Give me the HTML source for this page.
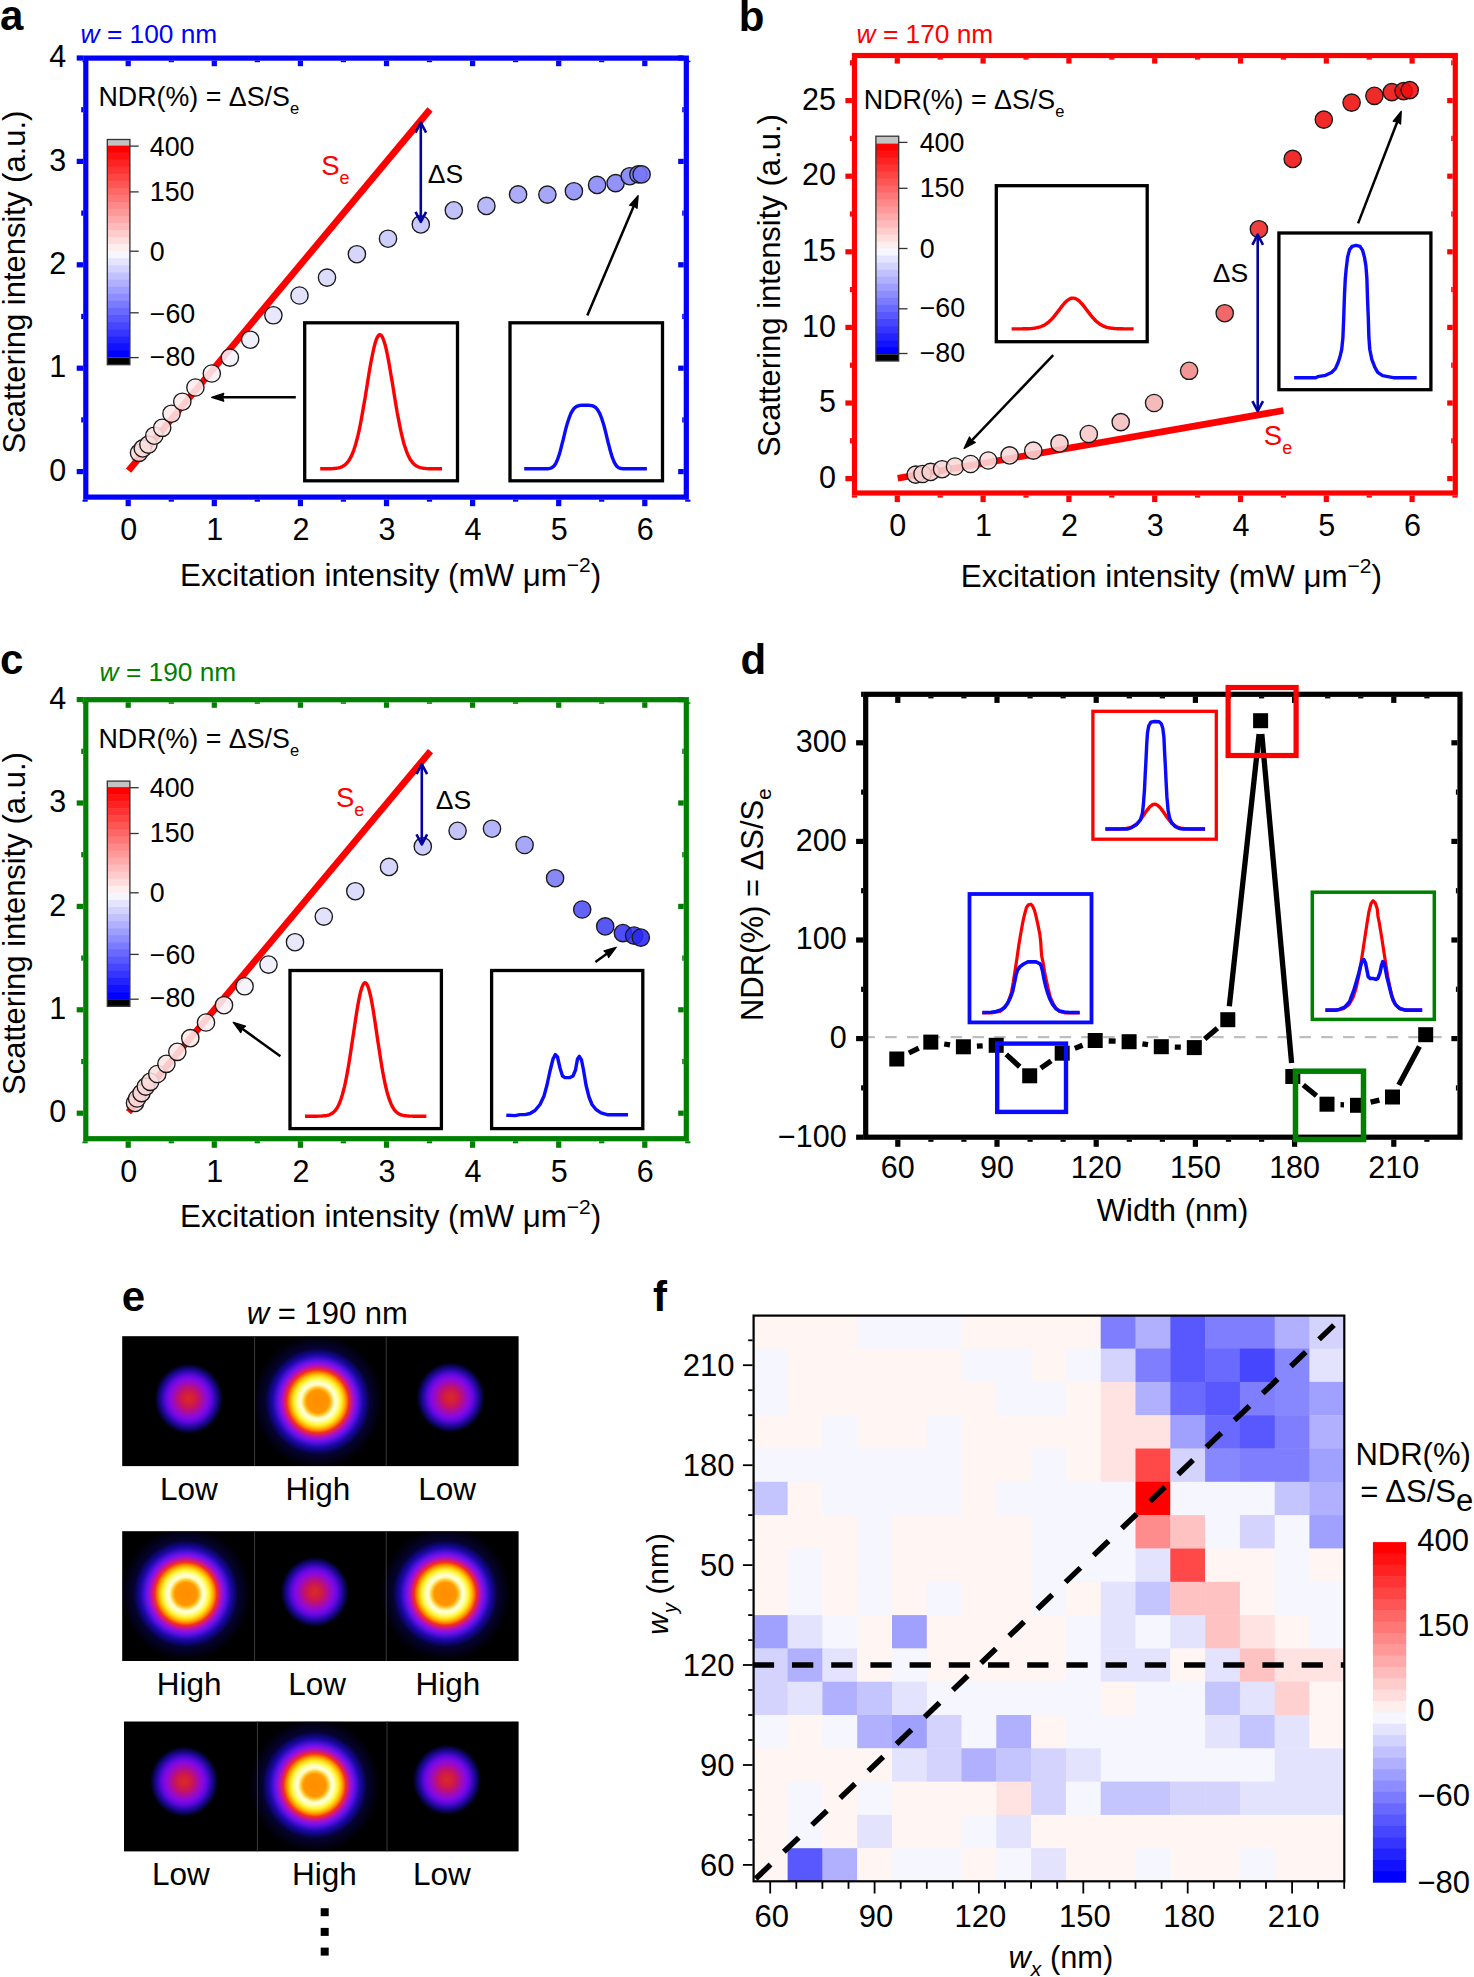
<!DOCTYPE html>
<html><head><meta charset="utf-8"><style>
html,body{margin:0;padding:0;background:#fff;width:1474px;height:1977px;overflow:hidden;}
svg{display:block;}
text{font-family:"Liberation Sans",sans-serif;}
</style></head><body>
<svg width="1474" height="1977" viewBox="0 0 1474 1977">
<rect x="0" y="0" width="1474" height="1977" fill="#fff"/>
<defs>
<radialGradient id="gLow" cx="0.5" cy="0.5" r="0.5">
<stop offset="0" stop-color="#d82a2a"/><stop offset="0.18" stop-color="#d01c40"/>
<stop offset="0.3" stop-color="#c01070"/><stop offset="0.42" stop-color="#a00cb4"/>
<stop offset="0.55" stop-color="#8408e4"/><stop offset="0.66" stop-color="#5a08dc"/>
<stop offset="0.76" stop-color="#2c08aa"/><stop offset="0.86" stop-color="#0e0668"/>
<stop offset="0.94" stop-color="#030222"/><stop offset="1" stop-color="#000" stop-opacity="0"/>
</radialGradient>
<radialGradient id="gHigh" cx="0.5" cy="0.5" r="0.5">
<stop offset="0.000" stop-color="#ff8c00"/><stop offset="0.204" stop-color="#ff9600"/><stop offset="0.252" stop-color="#ffc830"/><stop offset="0.298" stop-color="#fff8b0"/><stop offset="0.333" stop-color="#ffffe0"/><stop offset="0.380" stop-color="#ffff90"/><stop offset="0.437" stop-color="#fff030"/><stop offset="0.494" stop-color="#ffb800"/><stop offset="0.539" stop-color="#ff7000"/><stop offset="0.574" stop-color="#f03020"/><stop offset="0.620" stop-color="#d01880"/><stop offset="0.667" stop-color="#a010d0"/><stop offset="0.722" stop-color="#7010ec"/><stop offset="0.778" stop-color="#4010d0"/><stop offset="0.833" stop-color="#2008a8"/><stop offset="0.889" stop-color="#100680"/><stop offset="0.944" stop-color="#08044c"/><stop offset="1" stop-color="#01010c" stop-opacity="0"/>
</radialGradient>
<radialGradient id="gHalo" cx="0.5" cy="0.5" r="0.5">
<stop offset="0.6" stop-color="#140a90" stop-opacity="0.9"/><stop offset="0.75" stop-color="#0a0660" stop-opacity="0.6"/>
<stop offset="0.88" stop-color="#06033a" stop-opacity="0.35"/><stop offset="1" stop-color="#000" stop-opacity="0"/>
</radialGradient>
</defs>
<text x="0.0" y="30.4" font-size="42" font-weight="bold">a</text>
<text x="80.6" y="43.3" font-size="26.3" fill="#0000ff"><tspan font-style="italic">w</tspan> = 100 nm</text>
<rect x="304.7" y="322.8" width="152.8" height="158.0" fill="none" stroke="#000" stroke-width="3.3" stroke-linejoin="miter"/>
<rect x="510.0" y="322.8" width="152.5" height="158.0" fill="none" stroke="#000" stroke-width="3.3" stroke-linejoin="miter"/>
<polyline points="320.2,468.8 321.2,468.8 322.2,468.8 323.2,468.8 324.3,468.8 325.3,468.8 326.3,468.8 327.3,468.8 328.3,468.7 329.3,468.7 330.3,468.7 331.4,468.7 332.4,468.6 333.4,468.5 334.4,468.5 335.4,468.4 336.4,468.2 337.5,468.1 338.5,467.9 339.5,467.6 340.5,467.3 341.5,466.9 342.5,466.4 343.5,465.8 344.6,465.1 345.6,464.3 346.6,463.3 347.6,462.2 348.6,460.8 349.6,459.3 350.6,457.4 351.7,455.4 352.7,453.0 353.7,450.3 354.7,447.3 355.7,444.0 356.7,440.3 357.8,436.2 358.8,431.8 359.8,427.1 360.8,422.0 361.8,416.6 362.8,410.9 363.8,405.1 364.9,399.0 365.9,392.8 366.9,386.5 367.9,380.3 368.9,374.1 369.9,368.1 370.9,362.4 372.0,357.0 373.0,352.0 374.0,347.5 375.0,343.6 376.0,340.4 377.0,337.8 378.1,336.0 379.1,335.0 380.1,334.7 381.1,335.3 382.1,336.6 383.1,338.7 384.1,341.5 385.2,345.0 386.2,349.1 387.2,353.8 388.2,358.9 389.2,364.4 390.2,370.3 391.2,376.3 392.3,382.5 393.3,388.8 394.3,395.0 395.3,401.2 396.3,407.2 397.3,413.0 398.4,418.6 399.4,423.9 400.4,428.8 401.4,433.5 402.4,437.7 403.4,441.7 404.4,445.2 405.5,448.4 406.5,451.3 407.5,453.9 408.5,456.1 409.5,458.1 410.5,459.9 411.6,461.3 412.6,462.6 413.6,463.7 414.6,464.6 415.6,465.4 416.6,466.1 417.6,466.6 418.7,467.0 419.7,467.4 420.7,467.7 421.7,467.9 422.7,468.1 423.7,468.3 424.7,468.4 425.8,468.5 426.8,468.6 427.8,468.6 428.8,468.7 429.8,468.7 430.8,468.7 431.9,468.7 432.9,468.8 433.9,468.8 434.9,468.8 435.9,468.8 436.9,468.8 437.9,468.8 439.0,468.8 440.0,468.8 441.0,468.8 442.0,468.8" fill="none" stroke="#ff0000" stroke-width="3.4" stroke-linejoin="round"/>
<polyline points="524.2,468.8 525.2,468.8 526.2,468.8 527.3,468.8 528.3,468.8 529.3,468.8 530.3,468.8 531.4,468.8 532.4,468.8 533.4,468.8 534.4,468.8 535.4,468.8 536.5,468.8 537.5,468.8 538.5,468.8 539.5,468.8 540.6,468.8 541.6,468.8 542.6,468.8 543.6,468.8 544.7,468.8 545.7,468.8 546.7,468.8 547.7,468.7 548.7,468.6 549.8,468.4 550.8,468.1 551.8,467.7 552.8,467.0 553.9,466.1 554.9,464.8 555.9,463.1 556.9,461.0 557.9,458.4 559.0,455.3 560.0,451.9 561.0,448.1 562.0,444.1 563.1,440.0 564.1,435.8 565.1,431.7 566.1,427.7 567.1,424.1 568.2,420.7 569.2,417.7 570.2,415.1 571.2,412.8 572.3,411.0 573.3,409.4 574.3,408.2 575.3,407.3 576.3,406.6 577.4,406.1 578.4,405.8 579.4,405.5 580.4,405.4 581.5,405.3 582.5,405.3 583.5,405.3 584.5,405.3 585.6,405.3 586.6,405.3 587.6,405.3 588.6,405.3 589.6,405.4 590.7,405.5 591.7,405.6 592.7,405.9 593.7,406.3 594.8,406.9 595.8,407.7 596.8,408.8 597.8,410.1 598.8,411.8 599.9,413.9 600.9,416.3 601.9,419.1 602.9,422.3 604.0,425.8 605.0,429.6 606.0,433.7 607.0,437.8 608.0,442.0 609.1,446.1 610.1,450.0 611.1,453.6 612.1,456.9 613.2,459.7 614.2,462.1 615.2,464.0 616.2,465.5 617.2,466.6 618.3,467.4 619.3,467.9 620.3,468.3 621.3,468.5 622.4,468.7 623.4,468.7 624.4,468.8 625.4,468.8 626.5,468.8 627.5,468.8 628.5,468.8 629.5,468.8 630.5,468.8 631.6,468.8 632.6,468.8 633.6,468.8 634.6,468.8 635.7,468.8 636.7,468.8 637.7,468.8 638.7,468.8 639.7,468.8 640.8,468.8 641.8,468.8 642.8,468.8 643.8,468.8 644.9,468.8 645.9,468.8 646.9,468.8" fill="none" stroke="#0a0aff" stroke-width="3.4" stroke-linejoin="round"/>
<line x1="128.5" y1="470.6" x2="430.0" y2="109.5" stroke="#ff0000" stroke-width="6.7"/>
<circle cx="139.0" cy="452.8" r="8.65" fill="#f9dada" fill-opacity="0.88" stroke="#1a1a1a" stroke-width="1.35"/>
<circle cx="142.8" cy="448.4" r="8.65" fill="#f9dcdc" fill-opacity="0.88" stroke="#1a1a1a" stroke-width="1.35"/>
<circle cx="148.4" cy="444.6" r="8.65" fill="#fadede" fill-opacity="0.88" stroke="#1a1a1a" stroke-width="1.35"/>
<circle cx="154.3" cy="435.7" r="8.65" fill="#fae0e0" fill-opacity="0.88" stroke="#1a1a1a" stroke-width="1.35"/>
<circle cx="162.2" cy="427.8" r="8.65" fill="#fce5e5" fill-opacity="0.88" stroke="#1a1a1a" stroke-width="1.35"/>
<circle cx="171.5" cy="413.7" r="8.65" fill="#fce9e9" fill-opacity="0.88" stroke="#1a1a1a" stroke-width="1.35"/>
<circle cx="182.3" cy="401.7" r="8.65" fill="#fdecec" fill-opacity="0.88" stroke="#1a1a1a" stroke-width="1.35"/>
<circle cx="195.4" cy="387.5" r="8.65" fill="#fdeeef" fill-opacity="0.88" stroke="#1a1a1a" stroke-width="1.35"/>
<circle cx="211.8" cy="373.5" r="8.65" fill="#f9f0f5" fill-opacity="0.88" stroke="#1a1a1a" stroke-width="1.35"/>
<circle cx="229.9" cy="357.6" r="8.65" fill="#f5f2fa" fill-opacity="0.88" stroke="#1a1a1a" stroke-width="1.35"/>
<circle cx="250.2" cy="339.7" r="8.65" fill="#eeeefc" fill-opacity="0.88" stroke="#1a1a1a" stroke-width="1.35"/>
<circle cx="273.4" cy="315.3" r="8.65" fill="#e5e5fc" fill-opacity="0.88" stroke="#1a1a1a" stroke-width="1.35"/>
<circle cx="299.5" cy="295.5" r="8.65" fill="#dedefc" fill-opacity="0.88" stroke="#1a1a1a" stroke-width="1.35"/>
<circle cx="327.0" cy="277.6" r="8.65" fill="#d7d7fc" fill-opacity="0.88" stroke="#1a1a1a" stroke-width="1.35"/>
<circle cx="356.9" cy="254.2" r="8.65" fill="#d0d0fc" fill-opacity="0.88" stroke="#1a1a1a" stroke-width="1.35"/>
<circle cx="388.0" cy="238.7" r="8.65" fill="#c7c7fc" fill-opacity="0.88" stroke="#1a1a1a" stroke-width="1.35"/>
<circle cx="420.8" cy="224.4" r="8.65" fill="#c0c0f9" fill-opacity="0.88" stroke="#1a1a1a" stroke-width="1.35"/>
<circle cx="453.8" cy="210.3" r="8.65" fill="#babaf9" fill-opacity="0.88" stroke="#1a1a1a" stroke-width="1.35"/>
<circle cx="486.4" cy="205.9" r="8.65" fill="#aeaef9" fill-opacity="0.88" stroke="#1a1a1a" stroke-width="1.35"/>
<circle cx="518.1" cy="194.4" r="8.65" fill="#a1a1f9" fill-opacity="0.88" stroke="#1a1a1a" stroke-width="1.35"/>
<circle cx="547.4" cy="194.6" r="8.65" fill="#9a9af9" fill-opacity="0.88" stroke="#1a1a1a" stroke-width="1.35"/>
<circle cx="573.9" cy="191.2" r="8.65" fill="#8e8ef9" fill-opacity="0.88" stroke="#1a1a1a" stroke-width="1.35"/>
<circle cx="597.1" cy="184.9" r="8.65" fill="#8888f9" fill-opacity="0.88" stroke="#1a1a1a" stroke-width="1.35"/>
<circle cx="615.6" cy="183.1" r="8.65" fill="#8383f9" fill-opacity="0.88" stroke="#1a1a1a" stroke-width="1.35"/>
<circle cx="629.7" cy="176.2" r="8.65" fill="#7f7ff9" fill-opacity="0.88" stroke="#1a1a1a" stroke-width="1.35"/>
<circle cx="638.4" cy="174.4" r="8.65" fill="#7a7af9" fill-opacity="0.88" stroke="#1a1a1a" stroke-width="1.35"/>
<circle cx="641.6" cy="174.4" r="8.65" fill="#7676f9" fill-opacity="0.88" stroke="#1a1a1a" stroke-width="1.35"/>
<line x1="420.8" y1="123.5" x2="420.8" y2="220.9" stroke="#0303a0" stroke-width="2.6"/>
<polyline points="415.5,132.6 420.8,122.5 426.1,132.6" fill="none" stroke="#0303a0" stroke-width="2.6" stroke-linejoin="round"/>
<polyline points="415.5,211.8 420.8,221.9 426.1,211.8" fill="none" stroke="#0303a0" stroke-width="2.6" stroke-linejoin="round"/>
<text x="427.7" y="182.8" font-size="26.5">ΔS</text>
<text x="321.2" y="174.6" font-size="27.5" fill="#ff0000">S<tspan font-size="18" dy="9">e</tspan></text>
<line x1="295.8" y1="397.3" x2="222.7" y2="397.3" stroke="#000" stroke-width="2.5"/>
<polygon points="211.7,397.3 223.7,393.4 222.5,397.3 223.7,401.2" fill="#000" stroke="#000" stroke-width="1.4" stroke-linejoin="round"/>
<line x1="587.3" y1="315.6" x2="633.8" y2="205.9" stroke="#000" stroke-width="2.5"/>
<polygon points="638.1,195.7 637.0,208.3 633.9,205.7 629.8,205.3" fill="#000" stroke="#000" stroke-width="1.4" stroke-linejoin="round"/>
<rect x="125.6" y="499.7" width="5.2" height="6.5" fill="#0000ff"/>
<rect x="125.6" y="60.7" width="5.2" height="5.5" fill="#0000ff"/>
<rect x="211.7" y="499.7" width="5.2" height="6.5" fill="#0000ff"/>
<rect x="211.7" y="60.7" width="5.2" height="5.5" fill="#0000ff"/>
<rect x="297.8" y="499.7" width="5.2" height="6.5" fill="#0000ff"/>
<rect x="297.8" y="60.7" width="5.2" height="5.5" fill="#0000ff"/>
<rect x="383.9" y="499.7" width="5.2" height="6.5" fill="#0000ff"/>
<rect x="383.9" y="60.7" width="5.2" height="5.5" fill="#0000ff"/>
<rect x="470.0" y="499.7" width="5.2" height="6.5" fill="#0000ff"/>
<rect x="470.0" y="60.7" width="5.2" height="5.5" fill="#0000ff"/>
<rect x="556.1" y="499.7" width="5.2" height="6.5" fill="#0000ff"/>
<rect x="556.1" y="60.7" width="5.2" height="5.5" fill="#0000ff"/>
<rect x="642.2" y="499.7" width="5.2" height="6.5" fill="#0000ff"/>
<rect x="642.2" y="60.7" width="5.2" height="5.5" fill="#0000ff"/>
<rect x="82.5" y="499.7" width="5.2" height="2.0" fill="#0000ff"/>
<rect x="82.5" y="60.7" width="5.2" height="1.5" fill="#0000ff"/>
<rect x="168.7" y="499.7" width="5.2" height="2.0" fill="#0000ff"/>
<rect x="168.7" y="60.7" width="5.2" height="1.5" fill="#0000ff"/>
<rect x="254.7" y="499.7" width="5.2" height="2.0" fill="#0000ff"/>
<rect x="254.7" y="60.7" width="5.2" height="1.5" fill="#0000ff"/>
<rect x="340.8" y="499.7" width="5.2" height="2.0" fill="#0000ff"/>
<rect x="340.8" y="60.7" width="5.2" height="1.5" fill="#0000ff"/>
<rect x="426.9" y="499.7" width="5.2" height="2.0" fill="#0000ff"/>
<rect x="426.9" y="60.7" width="5.2" height="1.5" fill="#0000ff"/>
<rect x="513.0" y="499.7" width="5.2" height="2.0" fill="#0000ff"/>
<rect x="513.0" y="60.7" width="5.2" height="1.5" fill="#0000ff"/>
<rect x="599.1" y="499.7" width="5.2" height="2.0" fill="#0000ff"/>
<rect x="599.1" y="60.7" width="5.2" height="1.5" fill="#0000ff"/>
<rect x="685.2" y="499.7" width="5.2" height="2.0" fill="#0000ff"/>
<rect x="685.2" y="60.7" width="5.2" height="1.5" fill="#0000ff"/>
<rect x="76.7" y="469.0" width="6.5" height="5.2" fill="#0000ff"/>
<rect x="678.2" y="469.0" width="5.5" height="5.2" fill="#0000ff"/>
<rect x="76.7" y="365.6" width="6.5" height="5.2" fill="#0000ff"/>
<rect x="678.2" y="365.6" width="5.5" height="5.2" fill="#0000ff"/>
<rect x="76.7" y="262.2" width="6.5" height="5.2" fill="#0000ff"/>
<rect x="678.2" y="262.2" width="5.5" height="5.2" fill="#0000ff"/>
<rect x="76.7" y="158.8" width="6.5" height="5.2" fill="#0000ff"/>
<rect x="678.2" y="158.8" width="5.5" height="5.2" fill="#0000ff"/>
<rect x="76.7" y="55.4" width="6.5" height="5.2" fill="#0000ff"/>
<rect x="678.2" y="55.4" width="5.5" height="5.2" fill="#0000ff"/>
<rect x="81.2" y="417.3" width="2.0" height="5.2" fill="#0000ff"/>
<rect x="682.2" y="417.3" width="1.5" height="5.2" fill="#0000ff"/>
<rect x="81.2" y="313.9" width="2.0" height="5.2" fill="#0000ff"/>
<rect x="682.2" y="313.9" width="1.5" height="5.2" fill="#0000ff"/>
<rect x="81.2" y="210.5" width="2.0" height="5.2" fill="#0000ff"/>
<rect x="682.2" y="210.5" width="1.5" height="5.2" fill="#0000ff"/>
<rect x="81.2" y="107.1" width="2.0" height="5.2" fill="#0000ff"/>
<rect x="682.2" y="107.1" width="1.5" height="5.2" fill="#0000ff"/>
<rect x="85.8" y="58.1" width="600.5" height="439.0" fill="none" stroke="#0000ff" stroke-width="5.2"/>
<text x="66.3" y="480.8" font-size="30.5" text-anchor="end">0</text>
<text x="66.3" y="377.4" font-size="30.5" text-anchor="end">1</text>
<text x="66.3" y="274.0" font-size="30.5" text-anchor="end">2</text>
<text x="66.3" y="170.6" font-size="30.5" text-anchor="end">3</text>
<text x="66.3" y="67.2" font-size="30.5" text-anchor="end">4</text>
<text x="128.7" y="540.0" font-size="30.5" text-anchor="middle">0</text>
<text x="214.8" y="540.0" font-size="30.5" text-anchor="middle">1</text>
<text x="300.9" y="540.0" font-size="30.5" text-anchor="middle">2</text>
<text x="387.0" y="540.0" font-size="30.5" text-anchor="middle">3</text>
<text x="473.1" y="540.0" font-size="30.5" text-anchor="middle">4</text>
<text x="559.2" y="540.0" font-size="30.5" text-anchor="middle">5</text>
<text x="645.3" y="540.0" font-size="30.5" text-anchor="middle">6</text>
<text x="180.1" y="585.8" font-size="31.3">Excitation intensity (mW μm<tspan font-size="21" dy="-13.5">−2</tspan><tspan dy="13.5">)</tspan></text>
<text x="0" y="0" font-size="31" text-anchor="middle" transform="translate(25.3,282.0) rotate(-90)">Scattering intensity (a.u.)</text>
<rect x="107.3" y="139.5" width="22.6" height="6.0" fill="#c3c3c3"/>
<rect x="107.3" y="145.5" width="22.6" height="7.6" fill="rgb(255,0,0)"/>
<rect x="107.3" y="152.5" width="22.6" height="7.6" fill="rgb(255,17,17)"/>
<rect x="107.3" y="159.6" width="22.6" height="7.6" fill="rgb(255,34,34)"/>
<rect x="107.3" y="166.6" width="22.6" height="7.6" fill="rgb(255,51,51)"/>
<rect x="107.3" y="173.7" width="22.6" height="7.6" fill="rgb(255,68,68)"/>
<rect x="107.3" y="180.7" width="22.6" height="7.6" fill="rgb(255,85,85)"/>
<rect x="107.3" y="187.8" width="22.6" height="7.6" fill="rgb(255,102,102)"/>
<rect x="107.3" y="194.8" width="22.6" height="7.6" fill="rgb(255,119,119)"/>
<rect x="107.3" y="201.9" width="22.6" height="7.6" fill="rgb(255,136,136)"/>
<rect x="107.3" y="208.9" width="22.6" height="7.6" fill="rgb(255,153,153)"/>
<rect x="107.3" y="216.0" width="22.6" height="7.6" fill="rgb(255,170,170)"/>
<rect x="107.3" y="223.0" width="22.6" height="7.6" fill="rgb(255,187,187)"/>
<rect x="107.3" y="230.1" width="22.6" height="7.6" fill="rgb(255,204,204)"/>
<rect x="107.3" y="237.1" width="22.6" height="7.6" fill="rgb(255,221,221)"/>
<rect x="107.3" y="244.2" width="22.6" height="7.6" fill="rgb(255,238,238)"/>
<rect x="107.3" y="251.2" width="22.6" height="7.7" fill="rgb(246,246,255)"/>
<rect x="107.3" y="258.3" width="22.6" height="7.7" fill="rgb(228,228,255)"/>
<rect x="107.3" y="265.4" width="22.6" height="7.7" fill="rgb(211,211,255)"/>
<rect x="107.3" y="272.5" width="22.6" height="7.7" fill="rgb(193,193,255)"/>
<rect x="107.3" y="279.6" width="22.6" height="7.7" fill="rgb(176,176,255)"/>
<rect x="107.3" y="286.7" width="22.6" height="7.7" fill="rgb(158,158,255)"/>
<rect x="107.3" y="293.8" width="22.6" height="7.7" fill="rgb(141,141,255)"/>
<rect x="107.3" y="300.9" width="22.6" height="7.7" fill="rgb(123,123,255)"/>
<rect x="107.3" y="307.9" width="22.6" height="7.7" fill="rgb(105,105,255)"/>
<rect x="107.3" y="315.0" width="22.6" height="7.7" fill="rgb(88,88,255)"/>
<rect x="107.3" y="322.1" width="22.6" height="7.7" fill="rgb(70,70,255)"/>
<rect x="107.3" y="329.2" width="22.6" height="7.7" fill="rgb(53,53,255)"/>
<rect x="107.3" y="336.3" width="22.6" height="7.7" fill="rgb(35,35,255)"/>
<rect x="107.3" y="343.4" width="22.6" height="7.7" fill="rgb(18,18,255)"/>
<rect x="107.3" y="350.5" width="22.6" height="7.1" fill="rgb(0,0,255)"/>
<rect x="107.3" y="357.6" width="22.6" height="7.1" fill="#000"/>
<rect x="107.3" y="139.5" width="22.6" height="225.2" fill="none" stroke="#333" stroke-width="1.3"/>
<line x1="129.9" y1="146.1" x2="138.7" y2="146.1" stroke="#333" stroke-width="1.3"/>
<text x="149.8" y="155.8" font-size="26.8">400</text>
<line x1="129.9" y1="191.9" x2="138.7" y2="191.9" stroke="#333" stroke-width="1.3"/>
<text x="149.8" y="200.6" font-size="26.8">150</text>
<line x1="129.9" y1="251.2" x2="138.7" y2="251.2" stroke="#333" stroke-width="1.3"/>
<text x="149.8" y="260.5" font-size="26.8">0</text>
<line x1="129.9" y1="312.8" x2="138.7" y2="312.8" stroke="#333" stroke-width="1.3"/>
<text x="149.8" y="322.6" font-size="26.8">−60</text>
<line x1="129.9" y1="357.6" x2="138.7" y2="357.6" stroke="#333" stroke-width="1.3"/>
<text x="149.8" y="365.6" font-size="26.8">−80</text>
<text x="98.5" y="106.1" font-size="26.8">NDR(%) = ΔS/S<tspan font-size="16.5" dy="8">e</tspan></text>
<text x="738.8" y="30.8" font-size="42" font-weight="bold">b</text>
<text x="856.6" y="43.4" font-size="26.3" fill="#ff0000"><tspan font-style="italic">w</tspan> = 170 nm</text>
<rect x="996.3" y="185.7" width="150.9" height="156.0" fill="none" stroke="#000" stroke-width="3.3" stroke-linejoin="miter"/>
<rect x="1278.9" y="233.0" width="152.0" height="156.7" fill="none" stroke="#000" stroke-width="3.3" stroke-linejoin="miter"/>
<polyline points="1011.6,328.9 1012.6,328.9 1013.6,328.9 1014.6,328.9 1015.7,328.9 1016.7,328.9 1017.7,328.9 1018.7,328.9 1019.7,328.9 1020.8,328.9 1021.8,328.9 1022.8,328.8 1023.8,328.8 1024.8,328.8 1025.8,328.8 1026.8,328.8 1027.9,328.7 1028.9,328.7 1029.9,328.6 1030.9,328.6 1031.9,328.5 1033.0,328.4 1034.0,328.3 1035.0,328.1 1036.0,327.9 1037.0,327.7 1038.0,327.5 1039.0,327.2 1040.1,326.9 1041.1,326.6 1042.1,326.1 1043.1,325.7 1044.1,325.2 1045.2,324.6 1046.2,323.9 1047.2,323.2 1048.2,322.4 1049.2,321.5 1050.2,320.6 1051.2,319.6 1052.3,318.5 1053.3,317.3 1054.3,316.1 1055.3,314.9 1056.3,313.6 1057.3,312.3 1058.4,310.9 1059.4,309.6 1060.4,308.2 1061.4,306.9 1062.4,305.6 1063.5,304.4 1064.5,303.2 1065.5,302.1 1066.5,301.2 1067.5,300.3 1068.5,299.6 1069.5,299.0 1070.6,298.5 1071.6,298.2 1072.6,298.1 1073.6,298.1 1074.6,298.3 1075.6,298.7 1076.7,299.2 1077.7,299.8 1078.7,300.6 1079.7,301.5 1080.7,302.6 1081.8,303.7 1082.8,304.9 1083.8,306.1 1084.8,307.4 1085.8,308.8 1086.8,310.1 1087.8,311.5 1088.9,312.8 1089.9,314.1 1090.9,315.4 1091.9,316.6 1092.9,317.8 1094.0,318.9 1095.0,320.0 1096.0,321.0 1097.0,321.9 1098.0,322.7 1099.0,323.5 1100.0,324.2 1101.1,324.8 1102.1,325.4 1103.1,325.9 1104.1,326.3 1105.1,326.7 1106.1,327.1 1107.2,327.4 1108.2,327.6 1109.2,327.8 1110.2,328.0 1111.2,328.2 1112.2,328.3 1113.3,328.4 1114.3,328.5 1115.3,328.6 1116.3,328.6 1117.3,328.7 1118.3,328.7 1119.4,328.8 1120.4,328.8 1121.4,328.8 1122.4,328.8 1123.4,328.9 1124.4,328.9 1125.5,328.9 1126.5,328.9 1127.5,328.9 1128.5,328.9 1129.5,328.9 1130.5,328.9 1131.6,328.9 1132.6,328.9 1133.6,328.9" fill="none" stroke="#ff0000" stroke-width="3.4" stroke-linejoin="round"/>
<polyline points="1294.1,377.7 1315.7,377.7 1317.7,376.7 1325.6,375.3 1331.5,372.5 1335.4,368.6 1338.4,361.7 1340.3,355.4 1341.7,349.5 1342.9,337.7 1343.7,318.0 1344.5,294.4 1345.3,278.7 1346.2,268.9 1347.6,257.1 1349.6,249.6 1352.1,246.4 1356.1,245.4 1360.0,246.4 1362.6,250.4 1364.5,257.4 1365.9,265.9 1366.9,278.7 1367.5,298.4 1368.3,318.0 1368.9,337.7 1369.8,349.5 1371.8,359.4 1374.8,367.2 1377.7,372.3 1382.6,375.7 1390.5,377.1 1393.5,377.7 1416.7,377.7" fill="none" stroke="#0a0aff" stroke-width="3.4" stroke-linejoin="round"/>
<line x1="897.7" y1="478.2" x2="1283.4" y2="410.5" stroke="#ff0000" stroke-width="6.7"/>
<circle cx="915.7" cy="474.6" r="8.65" fill="#f7d0d0" fill-opacity="0.88" stroke="#1a1a1a" stroke-width="1.35"/>
<circle cx="922.5" cy="474.0" r="8.65" fill="#f7d0d0" fill-opacity="0.88" stroke="#1a1a1a" stroke-width="1.35"/>
<circle cx="930.6" cy="471.9" r="8.65" fill="#f7d0d0" fill-opacity="0.88" stroke="#1a1a1a" stroke-width="1.35"/>
<circle cx="942.1" cy="469.2" r="8.65" fill="#f8d5d5" fill-opacity="0.88" stroke="#1a1a1a" stroke-width="1.35"/>
<circle cx="955.0" cy="466.5" r="8.65" fill="#f9dada" fill-opacity="0.88" stroke="#1a1a1a" stroke-width="1.35"/>
<circle cx="970.6" cy="464.0" r="8.65" fill="#fadede" fill-opacity="0.88" stroke="#1a1a1a" stroke-width="1.35"/>
<circle cx="988.3" cy="460.5" r="8.65" fill="#fadede" fill-opacity="0.88" stroke="#1a1a1a" stroke-width="1.35"/>
<circle cx="1009.6" cy="455.4" r="8.65" fill="#f9dada" fill-opacity="0.88" stroke="#1a1a1a" stroke-width="1.35"/>
<circle cx="1033.3" cy="450.6" r="8.65" fill="#f8d5d5" fill-opacity="0.88" stroke="#1a1a1a" stroke-width="1.35"/>
<circle cx="1059.5" cy="443.4" r="8.65" fill="#f7cece" fill-opacity="0.88" stroke="#1a1a1a" stroke-width="1.35"/>
<circle cx="1088.8" cy="434.0" r="8.65" fill="#f6c7c7" fill-opacity="0.88" stroke="#1a1a1a" stroke-width="1.35"/>
<circle cx="1120.7" cy="422.1" r="8.65" fill="#f5bebe" fill-opacity="0.88" stroke="#1a1a1a" stroke-width="1.35"/>
<circle cx="1154.1" cy="403.0" r="8.65" fill="#f4b1b1" fill-opacity="0.88" stroke="#1a1a1a" stroke-width="1.35"/>
<circle cx="1189.1" cy="370.8" r="8.65" fill="#f08888" fill-opacity="0.88" stroke="#1a1a1a" stroke-width="1.35"/>
<circle cx="1224.7" cy="313.2" r="8.65" fill="#ee5353" fill-opacity="0.88" stroke="#1a1a1a" stroke-width="1.35"/>
<circle cx="1258.9" cy="229.2" r="8.65" fill="#ec2424" fill-opacity="0.88" stroke="#1a1a1a" stroke-width="1.35"/>
<circle cx="1292.7" cy="158.9" r="8.65" fill="#ee0f0f" fill-opacity="0.88" stroke="#1a1a1a" stroke-width="1.35"/>
<circle cx="1323.8" cy="119.6" r="8.65" fill="#ee0b0b" fill-opacity="0.88" stroke="#1a1a1a" stroke-width="1.35"/>
<circle cx="1351.6" cy="102.6" r="8.65" fill="#ee0b0b" fill-opacity="0.88" stroke="#1a1a1a" stroke-width="1.35"/>
<circle cx="1374.4" cy="95.8" r="8.65" fill="#ee0b0b" fill-opacity="0.88" stroke="#1a1a1a" stroke-width="1.35"/>
<circle cx="1391.8" cy="92.1" r="8.65" fill="#ee0d0d" fill-opacity="0.88" stroke="#1a1a1a" stroke-width="1.35"/>
<circle cx="1403.6" cy="91.1" r="8.65" fill="#ee0b0b" fill-opacity="0.88" stroke="#1a1a1a" stroke-width="1.35"/>
<circle cx="1409.7" cy="90.1" r="8.65" fill="#ee0d0d" fill-opacity="0.88" stroke="#1a1a1a" stroke-width="1.35"/>
<line x1="1257.7" y1="235.7" x2="1257.7" y2="410.2" stroke="#0303a0" stroke-width="2.6"/>
<polyline points="1252.4,244.8 1257.7,234.7 1263.0,244.8" fill="none" stroke="#0303a0" stroke-width="2.6" stroke-linejoin="round"/>
<polyline points="1252.4,401.1 1257.7,411.2 1263.0,401.1" fill="none" stroke="#0303a0" stroke-width="2.6" stroke-linejoin="round"/>
<text x="1212.8" y="281.9" font-size="26.5">ΔS</text>
<text x="1263.8" y="444.9" font-size="27.5" fill="#ff0000">S<tspan font-size="18" dy="9">e</tspan></text>
<line x1="1053.2" y1="355.1" x2="971.6" y2="440.6" stroke="#000" stroke-width="2.5"/>
<polygon points="964.1,448.5 969.5,437.1 971.5,440.7 975.2,442.5" fill="#000" stroke="#000" stroke-width="1.4" stroke-linejoin="round"/>
<line x1="1358.1" y1="223.4" x2="1397.3" y2="121.7" stroke="#000" stroke-width="2.5"/>
<polygon points="1401.2,111.4 1400.5,124.0 1397.3,121.5 1393.3,121.2" fill="#000" stroke="#000" stroke-width="1.4" stroke-linejoin="round"/>
<rect x="894.7" y="495.6" width="5.2" height="6.5" fill="#ff0000"/>
<rect x="894.7" y="58.1" width="5.2" height="5.5" fill="#ff0000"/>
<rect x="980.5" y="495.6" width="5.2" height="6.5" fill="#ff0000"/>
<rect x="980.5" y="58.1" width="5.2" height="5.5" fill="#ff0000"/>
<rect x="1066.3" y="495.6" width="5.2" height="6.5" fill="#ff0000"/>
<rect x="1066.3" y="58.1" width="5.2" height="5.5" fill="#ff0000"/>
<rect x="1152.1" y="495.6" width="5.2" height="6.5" fill="#ff0000"/>
<rect x="1152.1" y="58.1" width="5.2" height="5.5" fill="#ff0000"/>
<rect x="1237.9" y="495.6" width="5.2" height="6.5" fill="#ff0000"/>
<rect x="1237.9" y="58.1" width="5.2" height="5.5" fill="#ff0000"/>
<rect x="1323.7" y="495.6" width="5.2" height="6.5" fill="#ff0000"/>
<rect x="1323.7" y="58.1" width="5.2" height="5.5" fill="#ff0000"/>
<rect x="1409.5" y="495.6" width="5.2" height="6.5" fill="#ff0000"/>
<rect x="1409.5" y="58.1" width="5.2" height="5.5" fill="#ff0000"/>
<rect x="851.8" y="495.6" width="5.2" height="2.0" fill="#ff0000"/>
<rect x="851.8" y="58.1" width="5.2" height="1.5" fill="#ff0000"/>
<rect x="937.6" y="495.6" width="5.2" height="2.0" fill="#ff0000"/>
<rect x="937.6" y="58.1" width="5.2" height="1.5" fill="#ff0000"/>
<rect x="1023.4" y="495.6" width="5.2" height="2.0" fill="#ff0000"/>
<rect x="1023.4" y="58.1" width="5.2" height="1.5" fill="#ff0000"/>
<rect x="1109.2" y="495.6" width="5.2" height="2.0" fill="#ff0000"/>
<rect x="1109.2" y="58.1" width="5.2" height="1.5" fill="#ff0000"/>
<rect x="1195.0" y="495.6" width="5.2" height="2.0" fill="#ff0000"/>
<rect x="1195.0" y="58.1" width="5.2" height="1.5" fill="#ff0000"/>
<rect x="1280.8" y="495.6" width="5.2" height="2.0" fill="#ff0000"/>
<rect x="1280.8" y="58.1" width="5.2" height="1.5" fill="#ff0000"/>
<rect x="1366.6" y="495.6" width="5.2" height="2.0" fill="#ff0000"/>
<rect x="1366.6" y="58.1" width="5.2" height="1.5" fill="#ff0000"/>
<rect x="1452.4" y="495.6" width="5.2" height="2.0" fill="#ff0000"/>
<rect x="1452.4" y="58.1" width="5.2" height="1.5" fill="#ff0000"/>
<rect x="845.4" y="476.0" width="6.5" height="5.2" fill="#ff0000"/>
<rect x="1447.2" y="476.0" width="5.5" height="5.2" fill="#ff0000"/>
<rect x="845.4" y="400.4" width="6.5" height="5.2" fill="#ff0000"/>
<rect x="1447.2" y="400.4" width="5.5" height="5.2" fill="#ff0000"/>
<rect x="845.4" y="324.8" width="6.5" height="5.2" fill="#ff0000"/>
<rect x="1447.2" y="324.8" width="5.5" height="5.2" fill="#ff0000"/>
<rect x="845.4" y="249.2" width="6.5" height="5.2" fill="#ff0000"/>
<rect x="1447.2" y="249.2" width="5.5" height="5.2" fill="#ff0000"/>
<rect x="845.4" y="173.6" width="6.5" height="5.2" fill="#ff0000"/>
<rect x="1447.2" y="173.6" width="5.5" height="5.2" fill="#ff0000"/>
<rect x="845.4" y="98.0" width="6.5" height="5.2" fill="#ff0000"/>
<rect x="1447.2" y="98.0" width="5.5" height="5.2" fill="#ff0000"/>
<rect x="849.9" y="438.2" width="2.0" height="5.2" fill="#ff0000"/>
<rect x="1451.2" y="438.2" width="1.5" height="5.2" fill="#ff0000"/>
<rect x="849.9" y="362.6" width="2.0" height="5.2" fill="#ff0000"/>
<rect x="1451.2" y="362.6" width="1.5" height="5.2" fill="#ff0000"/>
<rect x="849.9" y="287.0" width="2.0" height="5.2" fill="#ff0000"/>
<rect x="1451.2" y="287.0" width="1.5" height="5.2" fill="#ff0000"/>
<rect x="849.9" y="211.4" width="2.0" height="5.2" fill="#ff0000"/>
<rect x="1451.2" y="211.4" width="1.5" height="5.2" fill="#ff0000"/>
<rect x="849.9" y="135.8" width="2.0" height="5.2" fill="#ff0000"/>
<rect x="1451.2" y="135.8" width="1.5" height="5.2" fill="#ff0000"/>
<rect x="849.9" y="60.2" width="2.0" height="5.2" fill="#ff0000"/>
<rect x="1451.2" y="60.2" width="1.5" height="5.2" fill="#ff0000"/>
<rect x="854.5" y="55.5" width="600.8" height="437.5" fill="none" stroke="#ff0000" stroke-width="5.2"/>
<text x="836.0" y="487.8" font-size="30.5" text-anchor="end">0</text>
<text x="836.0" y="412.2" font-size="30.5" text-anchor="end">5</text>
<text x="836.0" y="336.6" font-size="30.5" text-anchor="end">10</text>
<text x="836.0" y="261.0" font-size="30.5" text-anchor="end">15</text>
<text x="836.0" y="185.4" font-size="30.5" text-anchor="end">20</text>
<text x="836.0" y="109.8" font-size="30.5" text-anchor="end">25</text>
<text x="897.8" y="536.4" font-size="30.5" text-anchor="middle">0</text>
<text x="983.6" y="536.4" font-size="30.5" text-anchor="middle">1</text>
<text x="1069.4" y="536.4" font-size="30.5" text-anchor="middle">2</text>
<text x="1155.2" y="536.4" font-size="30.5" text-anchor="middle">3</text>
<text x="1241.0" y="536.4" font-size="30.5" text-anchor="middle">4</text>
<text x="1326.8" y="536.4" font-size="30.5" text-anchor="middle">5</text>
<text x="1412.6" y="536.4" font-size="30.5" text-anchor="middle">6</text>
<text x="960.8" y="586.5" font-size="31.3">Excitation intensity (mW μm<tspan font-size="21" dy="-13.5">−2</tspan><tspan dy="13.5">)</tspan></text>
<text x="0" y="0" font-size="31" text-anchor="middle" transform="translate(780.0,285.6) rotate(-90)">Scattering intensity (a.u.)</text>
<rect x="875.9" y="136.2" width="22.8" height="7.3" fill="#c3c3c3"/>
<rect x="875.9" y="143.5" width="22.8" height="7.6" fill="rgb(255,0,0)"/>
<rect x="875.9" y="150.5" width="22.8" height="7.6" fill="rgb(255,17,17)"/>
<rect x="875.9" y="157.5" width="22.8" height="7.6" fill="rgb(255,34,34)"/>
<rect x="875.9" y="164.5" width="22.8" height="7.6" fill="rgb(255,51,51)"/>
<rect x="875.9" y="171.5" width="22.8" height="7.6" fill="rgb(255,68,68)"/>
<rect x="875.9" y="178.5" width="22.8" height="7.6" fill="rgb(255,85,85)"/>
<rect x="875.9" y="185.5" width="22.8" height="7.6" fill="rgb(255,102,102)"/>
<rect x="875.9" y="192.5" width="22.8" height="7.6" fill="rgb(255,119,119)"/>
<rect x="875.9" y="199.5" width="22.8" height="7.6" fill="rgb(255,136,136)"/>
<rect x="875.9" y="206.5" width="22.8" height="7.6" fill="rgb(255,153,153)"/>
<rect x="875.9" y="213.5" width="22.8" height="7.6" fill="rgb(255,170,170)"/>
<rect x="875.9" y="220.5" width="22.8" height="7.6" fill="rgb(255,187,187)"/>
<rect x="875.9" y="227.5" width="22.8" height="7.6" fill="rgb(255,204,204)"/>
<rect x="875.9" y="234.5" width="22.8" height="7.6" fill="rgb(255,221,221)"/>
<rect x="875.9" y="241.5" width="22.8" height="7.6" fill="rgb(255,238,238)"/>
<rect x="875.9" y="248.5" width="22.8" height="7.7" fill="rgb(246,246,255)"/>
<rect x="875.9" y="255.6" width="22.8" height="7.7" fill="rgb(228,228,255)"/>
<rect x="875.9" y="262.6" width="22.8" height="7.7" fill="rgb(211,211,255)"/>
<rect x="875.9" y="269.7" width="22.8" height="7.7" fill="rgb(193,193,255)"/>
<rect x="875.9" y="276.7" width="22.8" height="7.7" fill="rgb(176,176,255)"/>
<rect x="875.9" y="283.8" width="22.8" height="7.7" fill="rgb(158,158,255)"/>
<rect x="875.9" y="290.8" width="22.8" height="7.7" fill="rgb(141,141,255)"/>
<rect x="875.9" y="297.9" width="22.8" height="7.7" fill="rgb(123,123,255)"/>
<rect x="875.9" y="304.9" width="22.8" height="7.7" fill="rgb(105,105,255)"/>
<rect x="875.9" y="312.0" width="22.8" height="7.7" fill="rgb(88,88,255)"/>
<rect x="875.9" y="319.0" width="22.8" height="7.7" fill="rgb(70,70,255)"/>
<rect x="875.9" y="326.1" width="22.8" height="7.7" fill="rgb(53,53,255)"/>
<rect x="875.9" y="333.1" width="22.8" height="7.7" fill="rgb(35,35,255)"/>
<rect x="875.9" y="340.2" width="22.8" height="7.7" fill="rgb(18,18,255)"/>
<rect x="875.9" y="347.2" width="22.8" height="7.1" fill="rgb(0,0,255)"/>
<rect x="875.9" y="354.3" width="22.8" height="6.7" fill="#000"/>
<rect x="875.9" y="136.2" width="22.8" height="224.8" fill="none" stroke="#333" stroke-width="1.3"/>
<line x1="898.7" y1="142.4" x2="907.5" y2="142.4" stroke="#333" stroke-width="1.3"/>
<text x="919.7" y="151.6" font-size="26.8">400</text>
<line x1="898.7" y1="188.3" x2="907.5" y2="188.3" stroke="#333" stroke-width="1.3"/>
<text x="919.7" y="197.2" font-size="26.8">150</text>
<line x1="898.7" y1="248.5" x2="907.5" y2="248.5" stroke="#333" stroke-width="1.3"/>
<text x="919.7" y="257.5" font-size="26.8">0</text>
<line x1="898.7" y1="308.8" x2="907.5" y2="308.8" stroke="#333" stroke-width="1.3"/>
<text x="919.7" y="316.9" font-size="26.8">−60</text>
<line x1="898.7" y1="353.5" x2="907.5" y2="353.5" stroke="#333" stroke-width="1.3"/>
<text x="919.7" y="361.7" font-size="26.8">−80</text>
<text x="863.8" y="109.2" font-size="26.8">NDR(%) = ΔS/S<tspan font-size="16.5" dy="8">e</tspan></text>
<text x="0.0" y="674.3" font-size="42" font-weight="bold">c</text>
<text x="99.6" y="681.2" font-size="26.3" fill="#008000"><tspan font-style="italic">w</tspan> = 190 nm</text>
<rect x="290.0" y="970.5" width="151.4" height="158.1" fill="none" stroke="#000" stroke-width="3.3" stroke-linejoin="miter"/>
<rect x="491.6" y="970.5" width="151.2" height="158.1" fill="none" stroke="#000" stroke-width="3.3" stroke-linejoin="miter"/>
<polyline points="305.0,1116.2 306.0,1116.2 307.0,1116.2 308.0,1116.2 309.0,1116.2 310.1,1116.2 311.1,1116.2 312.1,1116.2 313.1,1116.2 314.1,1116.2 315.1,1116.2 316.1,1116.2 317.1,1116.2 318.2,1116.1 319.2,1116.1 320.2,1116.1 321.2,1116.1 322.2,1116.0 323.2,1115.9 324.2,1115.8 325.2,1115.7 326.2,1115.6 327.3,1115.4 328.3,1115.1 329.3,1114.8 330.3,1114.4 331.3,1113.8 332.3,1113.2 333.3,1112.4 334.3,1111.5 335.3,1110.4 336.4,1109.0 337.4,1107.4 338.4,1105.5 339.4,1103.3 340.4,1100.7 341.4,1097.8 342.4,1094.5 343.4,1090.8 344.5,1086.6 345.5,1082.0 346.5,1077.0 347.5,1071.6 348.5,1065.8 349.5,1059.7 350.5,1053.2 351.5,1046.5 352.5,1039.7 353.6,1032.8 354.6,1026.0 355.6,1019.3 356.6,1012.8 357.6,1006.7 358.6,1001.1 359.6,996.1 360.6,991.8 361.7,988.2 362.7,985.5 363.7,983.7 364.7,982.8 365.7,982.9 366.7,983.9 367.7,985.9 368.7,988.8 369.7,992.5 370.8,997.0 371.8,1002.1 372.8,1007.8 373.8,1014.0 374.8,1020.5 375.8,1027.3 376.8,1034.1 377.8,1041.0 378.9,1047.8 379.9,1054.4 380.9,1060.8 381.9,1066.9 382.9,1072.7 383.9,1078.0 384.9,1082.9 385.9,1087.4 386.9,1091.5 388.0,1095.2 389.0,1098.4 390.0,1101.2 391.0,1103.7 392.0,1105.9 393.0,1107.7 394.0,1109.3 395.0,1110.6 396.0,1111.7 397.1,1112.6 398.1,1113.3 399.1,1114.0 400.1,1114.4 401.1,1114.8 402.1,1115.2 403.1,1115.4 404.1,1115.6 405.2,1115.7 406.2,1115.9 407.2,1115.9 408.2,1116.0 409.2,1116.1 410.2,1116.1 411.2,1116.1 412.2,1116.1 413.2,1116.2 414.3,1116.2 415.3,1116.2 416.3,1116.2 417.3,1116.2 418.3,1116.2 419.3,1116.2 420.3,1116.2 421.3,1116.2 422.4,1116.2 423.4,1116.2 424.4,1116.2 425.4,1116.2 426.4,1116.2" fill="none" stroke="#ff0000" stroke-width="3.4" stroke-linejoin="round"/>
<polyline points="506.3,1115.2 515.0,1115.6 520.0,1114.6 525.0,1114.6 530.0,1113.5 535.0,1110.5 540.0,1104.5 544.0,1096.0 547.0,1085.0 550.0,1071.0 553.0,1059.0 555.3,1054.6 557.5,1057.0 560.0,1068.0 562.5,1076.0 565.0,1077.6 570.0,1077.6 573.0,1076.0 575.5,1070.0 577.5,1059.0 579.3,1056.4 581.5,1060.0 583.5,1070.0 586.0,1085.0 589.0,1097.0 592.0,1104.5 596.0,1109.5 601.0,1112.8 608.0,1114.8 628.0,1114.8" fill="none" stroke="#0a0aff" stroke-width="3.4" stroke-linejoin="round"/>
<line x1="128.5" y1="1112.2" x2="430.5" y2="751.1" stroke="#ff0000" stroke-width="6.7"/>
<circle cx="135.0" cy="1102.9" r="8.65" fill="#f9d7d7" fill-opacity="0.88" stroke="#1a1a1a" stroke-width="1.35"/>
<circle cx="137.1" cy="1098.5" r="8.65" fill="#f9d7d7" fill-opacity="0.88" stroke="#1a1a1a" stroke-width="1.35"/>
<circle cx="141.5" cy="1093.1" r="8.65" fill="#f9d7d7" fill-opacity="0.88" stroke="#1a1a1a" stroke-width="1.35"/>
<circle cx="145.8" cy="1086.6" r="8.65" fill="#f9dada" fill-opacity="0.88" stroke="#1a1a1a" stroke-width="1.35"/>
<circle cx="150.2" cy="1081.8" r="8.65" fill="#fadcdc" fill-opacity="0.88" stroke="#1a1a1a" stroke-width="1.35"/>
<circle cx="157.3" cy="1074.0" r="8.65" fill="#fae0e0" fill-opacity="0.88" stroke="#1a1a1a" stroke-width="1.35"/>
<circle cx="166.4" cy="1063.8" r="8.65" fill="#fce5e5" fill-opacity="0.88" stroke="#1a1a1a" stroke-width="1.35"/>
<circle cx="177.3" cy="1051.8" r="8.65" fill="#fce9e9" fill-opacity="0.88" stroke="#1a1a1a" stroke-width="1.35"/>
<circle cx="190.3" cy="1038.2" r="8.65" fill="#fdecec" fill-opacity="0.88" stroke="#1a1a1a" stroke-width="1.35"/>
<circle cx="206.0" cy="1022.5" r="8.65" fill="#fceef0" fill-opacity="0.88" stroke="#1a1a1a" stroke-width="1.35"/>
<circle cx="224.0" cy="1005.2" r="8.65" fill="#f9f0f5" fill-opacity="0.88" stroke="#1a1a1a" stroke-width="1.35"/>
<circle cx="244.6" cy="986.3" r="8.65" fill="#f5f2fa" fill-opacity="0.88" stroke="#1a1a1a" stroke-width="1.35"/>
<circle cx="268.5" cy="964.6" r="8.65" fill="#eeeefc" fill-opacity="0.88" stroke="#1a1a1a" stroke-width="1.35"/>
<circle cx="295.0" cy="942.2" r="8.65" fill="#e5e5fc" fill-opacity="0.88" stroke="#1a1a1a" stroke-width="1.35"/>
<circle cx="323.8" cy="916.6" r="8.65" fill="#dedefc" fill-opacity="0.88" stroke="#1a1a1a" stroke-width="1.35"/>
<circle cx="355.3" cy="891.2" r="8.65" fill="#d7d7fc" fill-opacity="0.88" stroke="#1a1a1a" stroke-width="1.35"/>
<circle cx="389.0" cy="866.9" r="8.65" fill="#d0d0fc" fill-opacity="0.88" stroke="#1a1a1a" stroke-width="1.35"/>
<circle cx="422.8" cy="846.4" r="8.65" fill="#c7c7fc" fill-opacity="0.88" stroke="#1a1a1a" stroke-width="1.35"/>
<circle cx="457.6" cy="830.8" r="8.65" fill="#bcbcf9" fill-opacity="0.88" stroke="#1a1a1a" stroke-width="1.35"/>
<circle cx="492.0" cy="828.7" r="8.65" fill="#aaaaf9" fill-opacity="0.88" stroke="#1a1a1a" stroke-width="1.35"/>
<circle cx="524.6" cy="845.0" r="8.65" fill="#9a9af9" fill-opacity="0.88" stroke="#1a1a1a" stroke-width="1.35"/>
<circle cx="555.1" cy="878.2" r="8.65" fill="#7878f7" fill-opacity="0.88" stroke="#1a1a1a" stroke-width="1.35"/>
<circle cx="582.2" cy="909.5" r="8.65" fill="#4d4df5" fill-opacity="0.88" stroke="#1a1a1a" stroke-width="1.35"/>
<circle cx="605.2" cy="926.4" r="8.65" fill="#4141f5" fill-opacity="0.88" stroke="#1a1a1a" stroke-width="1.35"/>
<circle cx="622.9" cy="933.1" r="8.65" fill="#3636f2" fill-opacity="0.88" stroke="#1a1a1a" stroke-width="1.35"/>
<circle cx="634.1" cy="935.6" r="8.65" fill="#2f2ff2" fill-opacity="0.88" stroke="#1a1a1a" stroke-width="1.35"/>
<circle cx="640.8" cy="937.6" r="8.65" fill="#2828f2" fill-opacity="0.88" stroke="#1a1a1a" stroke-width="1.35"/>
<line x1="421.8" y1="765.1" x2="421.8" y2="843.5" stroke="#0303a0" stroke-width="2.6"/>
<polyline points="416.5,774.2 421.8,764.1 427.1,774.2" fill="none" stroke="#0303a0" stroke-width="2.6" stroke-linejoin="round"/>
<polyline points="416.5,834.4 421.8,844.5 427.1,834.4" fill="none" stroke="#0303a0" stroke-width="2.6" stroke-linejoin="round"/>
<text x="435.7" y="809.3" font-size="26.5">ΔS</text>
<text x="335.9" y="807.3" font-size="27.5" fill="#ff0000">S<tspan font-size="18" dy="9">e</tspan></text>
<line x1="280.4" y1="1056.2" x2="242.3" y2="1028.8" stroke="#000" stroke-width="2.5"/>
<polygon points="233.3,1022.4 245.4,1026.2 242.1,1028.7 240.8,1032.5" fill="#000" stroke="#000" stroke-width="1.4" stroke-linejoin="round"/>
<line x1="595.4" y1="962.0" x2="607.2" y2="953.6" stroke="#000" stroke-width="2.5"/>
<polygon points="616.1,947.3 608.6,957.4 607.3,953.5 604.1,951.0" fill="#000" stroke="#000" stroke-width="1.4" stroke-linejoin="round"/>
<rect x="125.6" y="1141.3" width="5.2" height="6.5" fill="#008000"/>
<rect x="125.6" y="702.3" width="5.2" height="5.5" fill="#008000"/>
<rect x="211.7" y="1141.3" width="5.2" height="6.5" fill="#008000"/>
<rect x="211.7" y="702.3" width="5.2" height="5.5" fill="#008000"/>
<rect x="297.8" y="1141.3" width="5.2" height="6.5" fill="#008000"/>
<rect x="297.8" y="702.3" width="5.2" height="5.5" fill="#008000"/>
<rect x="383.9" y="1141.3" width="5.2" height="6.5" fill="#008000"/>
<rect x="383.9" y="702.3" width="5.2" height="5.5" fill="#008000"/>
<rect x="470.0" y="1141.3" width="5.2" height="6.5" fill="#008000"/>
<rect x="470.0" y="702.3" width="5.2" height="5.5" fill="#008000"/>
<rect x="556.1" y="1141.3" width="5.2" height="6.5" fill="#008000"/>
<rect x="556.1" y="702.3" width="5.2" height="5.5" fill="#008000"/>
<rect x="642.2" y="1141.3" width="5.2" height="6.5" fill="#008000"/>
<rect x="642.2" y="702.3" width="5.2" height="5.5" fill="#008000"/>
<rect x="82.5" y="1141.3" width="5.2" height="2.0" fill="#008000"/>
<rect x="82.5" y="702.3" width="5.2" height="1.5" fill="#008000"/>
<rect x="168.7" y="1141.3" width="5.2" height="2.0" fill="#008000"/>
<rect x="168.7" y="702.3" width="5.2" height="1.5" fill="#008000"/>
<rect x="254.7" y="1141.3" width="5.2" height="2.0" fill="#008000"/>
<rect x="254.7" y="702.3" width="5.2" height="1.5" fill="#008000"/>
<rect x="340.8" y="1141.3" width="5.2" height="2.0" fill="#008000"/>
<rect x="340.8" y="702.3" width="5.2" height="1.5" fill="#008000"/>
<rect x="426.9" y="1141.3" width="5.2" height="2.0" fill="#008000"/>
<rect x="426.9" y="702.3" width="5.2" height="1.5" fill="#008000"/>
<rect x="513.0" y="1141.3" width="5.2" height="2.0" fill="#008000"/>
<rect x="513.0" y="702.3" width="5.2" height="1.5" fill="#008000"/>
<rect x="599.1" y="1141.3" width="5.2" height="2.0" fill="#008000"/>
<rect x="599.1" y="702.3" width="5.2" height="1.5" fill="#008000"/>
<rect x="685.2" y="1141.3" width="5.2" height="2.0" fill="#008000"/>
<rect x="685.2" y="702.3" width="5.2" height="1.5" fill="#008000"/>
<rect x="76.7" y="1110.6" width="6.5" height="5.2" fill="#008000"/>
<rect x="678.2" y="1110.6" width="5.5" height="5.2" fill="#008000"/>
<rect x="76.7" y="1007.2" width="6.5" height="5.2" fill="#008000"/>
<rect x="678.2" y="1007.2" width="5.5" height="5.2" fill="#008000"/>
<rect x="76.7" y="903.8" width="6.5" height="5.2" fill="#008000"/>
<rect x="678.2" y="903.8" width="5.5" height="5.2" fill="#008000"/>
<rect x="76.7" y="800.4" width="6.5" height="5.2" fill="#008000"/>
<rect x="678.2" y="800.4" width="5.5" height="5.2" fill="#008000"/>
<rect x="76.7" y="697.0" width="6.5" height="5.2" fill="#008000"/>
<rect x="678.2" y="697.0" width="5.5" height="5.2" fill="#008000"/>
<rect x="81.2" y="1058.9" width="2.0" height="5.2" fill="#008000"/>
<rect x="682.2" y="1058.9" width="1.5" height="5.2" fill="#008000"/>
<rect x="81.2" y="955.5" width="2.0" height="5.2" fill="#008000"/>
<rect x="682.2" y="955.5" width="1.5" height="5.2" fill="#008000"/>
<rect x="81.2" y="852.1" width="2.0" height="5.2" fill="#008000"/>
<rect x="682.2" y="852.1" width="1.5" height="5.2" fill="#008000"/>
<rect x="81.2" y="748.7" width="2.0" height="5.2" fill="#008000"/>
<rect x="682.2" y="748.7" width="1.5" height="5.2" fill="#008000"/>
<rect x="85.8" y="699.7" width="600.5" height="439.0" fill="none" stroke="#008000" stroke-width="5.2"/>
<text x="66.3" y="1122.4" font-size="30.5" text-anchor="end">0</text>
<text x="66.3" y="1019.0" font-size="30.5" text-anchor="end">1</text>
<text x="66.3" y="915.6" font-size="30.5" text-anchor="end">2</text>
<text x="66.3" y="812.2" font-size="30.5" text-anchor="end">3</text>
<text x="66.3" y="708.8" font-size="30.5" text-anchor="end">4</text>
<text x="128.7" y="1181.6" font-size="30.5" text-anchor="middle">0</text>
<text x="214.8" y="1181.6" font-size="30.5" text-anchor="middle">1</text>
<text x="300.9" y="1181.6" font-size="30.5" text-anchor="middle">2</text>
<text x="387.0" y="1181.6" font-size="30.5" text-anchor="middle">3</text>
<text x="473.1" y="1181.6" font-size="30.5" text-anchor="middle">4</text>
<text x="559.2" y="1181.6" font-size="30.5" text-anchor="middle">5</text>
<text x="645.3" y="1181.6" font-size="30.5" text-anchor="middle">6</text>
<text x="180.1" y="1227.4" font-size="31.3">Excitation intensity (mW μm<tspan font-size="21" dy="-13.5">−2</tspan><tspan dy="13.5">)</tspan></text>
<text x="0" y="0" font-size="31" text-anchor="middle" transform="translate(25.3,923.6) rotate(-90)">Scattering intensity (a.u.)</text>
<rect x="107.3" y="781.1" width="22.6" height="6.0" fill="#c3c3c3"/>
<rect x="107.3" y="787.1" width="22.6" height="7.6" fill="rgb(255,0,0)"/>
<rect x="107.3" y="794.1" width="22.6" height="7.6" fill="rgb(255,17,17)"/>
<rect x="107.3" y="801.2" width="22.6" height="7.6" fill="rgb(255,34,34)"/>
<rect x="107.3" y="808.2" width="22.6" height="7.6" fill="rgb(255,51,51)"/>
<rect x="107.3" y="815.3" width="22.6" height="7.6" fill="rgb(255,68,68)"/>
<rect x="107.3" y="822.3" width="22.6" height="7.6" fill="rgb(255,85,85)"/>
<rect x="107.3" y="829.4" width="22.6" height="7.6" fill="rgb(255,102,102)"/>
<rect x="107.3" y="836.4" width="22.6" height="7.6" fill="rgb(255,119,119)"/>
<rect x="107.3" y="843.5" width="22.6" height="7.6" fill="rgb(255,136,136)"/>
<rect x="107.3" y="850.5" width="22.6" height="7.6" fill="rgb(255,153,153)"/>
<rect x="107.3" y="857.6" width="22.6" height="7.6" fill="rgb(255,170,170)"/>
<rect x="107.3" y="864.6" width="22.6" height="7.6" fill="rgb(255,187,187)"/>
<rect x="107.3" y="871.7" width="22.6" height="7.6" fill="rgb(255,204,204)"/>
<rect x="107.3" y="878.7" width="22.6" height="7.6" fill="rgb(255,221,221)"/>
<rect x="107.3" y="885.8" width="22.6" height="7.6" fill="rgb(255,238,238)"/>
<rect x="107.3" y="892.8" width="22.6" height="7.7" fill="rgb(246,246,255)"/>
<rect x="107.3" y="899.9" width="22.6" height="7.7" fill="rgb(228,228,255)"/>
<rect x="107.3" y="907.0" width="22.6" height="7.7" fill="rgb(211,211,255)"/>
<rect x="107.3" y="914.1" width="22.6" height="7.7" fill="rgb(193,193,255)"/>
<rect x="107.3" y="921.2" width="22.6" height="7.7" fill="rgb(176,176,255)"/>
<rect x="107.3" y="928.3" width="22.6" height="7.7" fill="rgb(158,158,255)"/>
<rect x="107.3" y="935.4" width="22.6" height="7.7" fill="rgb(141,141,255)"/>
<rect x="107.3" y="942.5" width="22.6" height="7.7" fill="rgb(123,123,255)"/>
<rect x="107.3" y="949.5" width="22.6" height="7.7" fill="rgb(105,105,255)"/>
<rect x="107.3" y="956.6" width="22.6" height="7.7" fill="rgb(88,88,255)"/>
<rect x="107.3" y="963.7" width="22.6" height="7.7" fill="rgb(70,70,255)"/>
<rect x="107.3" y="970.8" width="22.6" height="7.7" fill="rgb(53,53,255)"/>
<rect x="107.3" y="977.9" width="22.6" height="7.7" fill="rgb(35,35,255)"/>
<rect x="107.3" y="985.0" width="22.6" height="7.7" fill="rgb(18,18,255)"/>
<rect x="107.3" y="992.1" width="22.6" height="7.1" fill="rgb(0,0,255)"/>
<rect x="107.3" y="999.2" width="22.6" height="7.1" fill="#000"/>
<rect x="107.3" y="781.1" width="22.6" height="225.2" fill="none" stroke="#333" stroke-width="1.3"/>
<line x1="129.9" y1="787.7" x2="138.7" y2="787.7" stroke="#333" stroke-width="1.3"/>
<text x="149.8" y="797.4" font-size="26.8">400</text>
<line x1="129.9" y1="833.5" x2="138.7" y2="833.5" stroke="#333" stroke-width="1.3"/>
<text x="149.8" y="842.2" font-size="26.8">150</text>
<line x1="129.9" y1="892.8" x2="138.7" y2="892.8" stroke="#333" stroke-width="1.3"/>
<text x="149.8" y="902.1" font-size="26.8">0</text>
<line x1="129.9" y1="954.4" x2="138.7" y2="954.4" stroke="#333" stroke-width="1.3"/>
<text x="149.8" y="964.2" font-size="26.8">−60</text>
<line x1="129.9" y1="999.2" x2="138.7" y2="999.2" stroke="#333" stroke-width="1.3"/>
<text x="149.8" y="1007.2" font-size="26.8">−80</text>
<text x="98.5" y="747.7" font-size="26.8">NDR(%) = ΔS/S<tspan font-size="16.5" dy="8">e</tspan></text>
<text x="740.6" y="674.2" font-size="42" font-weight="bold">d</text>
<line x1="863.4" y1="1037.1" x2="1457.5" y2="1037.1" stroke="#bebebe" stroke-width="2.4" stroke-dasharray="11.5 10.3"/>
<line x1="908.9" y1="1053.0" x2="918.7" y2="1048.1" stroke="#000" stroke-width="5.3"/>
<line x1="944.2" y1="1044.0" x2="950.0" y2="1044.9" stroke="#000" stroke-width="5.3"/>
<line x1="976.9" y1="1046.2" x2="982.7" y2="1045.9" stroke="#000" stroke-width="5.3"/>
<line x1="1006.2" y1="1054.4" x2="1019.7" y2="1066.7" stroke="#000" stroke-width="5.3"/>
<line x1="1040.8" y1="1068.1" x2="1051.1" y2="1060.9" stroke="#000" stroke-width="5.3"/>
<line x1="1074.8" y1="1048.4" x2="1082.6" y2="1045.3" stroke="#000" stroke-width="5.3"/>
<line x1="1108.7" y1="1041.0" x2="1115.6" y2="1041.2" stroke="#000" stroke-width="5.3"/>
<line x1="1142.4" y1="1043.8" x2="1148.0" y2="1044.6" stroke="#000" stroke-width="5.3"/>
<line x1="1174.8" y1="1047.1" x2="1180.8" y2="1047.2" stroke="#000" stroke-width="5.3"/>
<line x1="1204.7" y1="1039.0" x2="1217.4" y2="1028.3" stroke="#000" stroke-width="5.3"/>
<line x1="1229.3" y1="1006.3" x2="1259.1" y2="734.1" stroke="#000" stroke-width="5.3"/>
<line x1="1261.8" y1="734.1" x2="1291.6" y2="1063.1" stroke="#000" stroke-width="5.3"/>
<line x1="1303.3" y1="1085.0" x2="1316.5" y2="1095.7" stroke="#000" stroke-width="5.3"/>
<line x1="1340.5" y1="1104.7" x2="1344.0" y2="1104.8" stroke="#000" stroke-width="5.3"/>
<line x1="1370.6" y1="1102.2" x2="1379.4" y2="1100.1" stroke="#000" stroke-width="5.3"/>
<line x1="1398.8" y1="1085.1" x2="1419.4" y2="1046.6" stroke="#000" stroke-width="5.3"/>
<rect x="889.3" y="1051.5" width="15.0" height="15.0" fill="#000"/>
<rect x="923.3" y="1034.6" width="15.0" height="15.0" fill="#000"/>
<rect x="955.9" y="1039.3" width="15.0" height="15.0" fill="#000"/>
<rect x="988.7" y="1037.8" width="15.0" height="15.0" fill="#000"/>
<rect x="1022.2" y="1068.3" width="15.0" height="15.0" fill="#000"/>
<rect x="1054.7" y="1045.7" width="15.0" height="15.0" fill="#000"/>
<rect x="1087.7" y="1033.0" width="15.0" height="15.0" fill="#000"/>
<rect x="1121.6" y="1034.2" width="15.0" height="15.0" fill="#000"/>
<rect x="1153.8" y="1039.2" width="15.0" height="15.0" fill="#000"/>
<rect x="1186.8" y="1040.1" width="15.0" height="15.0" fill="#000"/>
<rect x="1220.3" y="1012.2" width="15.0" height="15.0" fill="#000"/>
<rect x="1253.1" y="713.2" width="15.0" height="15.0" fill="#000"/>
<rect x="1285.3" y="1069.0" width="15.0" height="15.0" fill="#000"/>
<rect x="1319.5" y="1096.7" width="15.0" height="15.0" fill="#000"/>
<rect x="1350.0" y="1097.8" width="15.0" height="15.0" fill="#000"/>
<rect x="1385.0" y="1089.5" width="15.0" height="15.0" fill="#000"/>
<rect x="1418.2" y="1027.2" width="15.0" height="15.0" fill="#000"/>
<rect x="969.5" y="894.0" width="122.0" height="128.4" fill="none" stroke="#0a0aff" stroke-width="3.8" stroke-linejoin="miter"/>
<polyline points="982.3,1013.0 991.3,1013.0 999.9,1011.5 1004.6,1007.7 1008.4,1001.6 1011.3,993.0 1013.2,982.6 1015.1,970.2 1017.0,957.9 1018.9,944.6 1020.8,933.2 1022.7,922.7 1024.6,914.2 1026.5,907.5 1028.4,904.7 1030.8,904.2 1032.6,906.1 1034.5,910.4 1036.0,916.1 1037.9,924.6 1039.8,934.1 1040.7,941.7 1041.2,950.3 1041.7,956.0 1043.1,962.6 1044.5,971.2 1046.4,980.7 1048.3,989.2 1050.2,996.8 1053.1,1003.5 1055.9,1008.2 1059.7,1011.5 1064.5,1012.8 1079.7,1013.0" fill="none" stroke="#ff0000" stroke-width="3.2" stroke-linejoin="round"/>
<polyline points="982.3,1012.5 991.3,1012.3 996.1,1011.5 1000.8,1010.1 1004.6,1007.3 1007.5,1003.5 1010.3,997.8 1012.7,991.1 1014.1,984.5 1015.1,979.7 1016.0,975.0 1017.5,970.2 1019.8,966.9 1023.6,964.0 1028.4,961.7 1033.1,961.9 1036.0,961.9 1039.8,963.6 1041.2,965.9 1042.6,971.2 1044.0,978.8 1045.5,985.4 1047.4,992.1 1049.7,998.7 1052.6,1004.4 1055.9,1008.7 1059.7,1011.1 1064.5,1012.0 1069.2,1012.5 1079.7,1012.5" fill="none" stroke="#0a0aff" stroke-width="3.6" stroke-linejoin="round"/>
<rect x="1092.9" y="711.3" width="123.4" height="127.9" fill="none" stroke="#ff0000" stroke-width="3.3" stroke-linejoin="miter"/>
<polyline points="1105.4,829.0 1106.2,829.0 1107.1,829.0 1107.9,829.0 1108.7,829.0 1109.6,829.0 1110.4,829.0 1111.2,829.0 1112.0,829.0 1112.9,829.0 1113.7,829.0 1114.5,829.0 1115.4,829.0 1116.2,829.0 1117.0,829.0 1117.9,829.0 1118.7,829.0 1119.5,828.9 1120.3,828.9 1121.2,828.9 1122.0,828.9 1122.8,828.8 1123.7,828.8 1124.5,828.7 1125.3,828.6 1126.2,828.5 1127.0,828.4 1127.8,828.2 1128.6,828.0 1129.5,827.8 1130.3,827.6 1131.1,827.3 1132.0,826.9 1132.8,826.5 1133.6,826.0 1134.5,825.5 1135.3,824.9 1136.1,824.2 1136.9,823.5 1137.8,822.7 1138.6,821.8 1139.4,820.8 1140.3,819.8 1141.1,818.7 1141.9,817.6 1142.8,816.4 1143.6,815.2 1144.4,814.0 1145.2,812.8 1146.1,811.6 1146.9,810.4 1147.7,809.3 1148.6,808.3 1149.4,807.3 1150.2,806.5 1151.0,805.8 1151.9,805.2 1152.7,804.7 1153.5,804.4 1154.4,804.3 1155.2,804.3 1156.0,804.5 1156.9,804.9 1157.7,805.4 1158.5,806.1 1159.4,806.8 1160.2,807.7 1161.0,808.7 1161.8,809.8 1162.7,810.9 1163.5,812.1 1164.3,813.3 1165.2,814.6 1166.0,815.8 1166.8,817.0 1167.7,818.1 1168.5,819.2 1169.3,820.3 1170.1,821.3 1171.0,822.2 1171.8,823.1 1172.6,823.8 1173.5,824.5 1174.3,825.2 1175.1,825.7 1176.0,826.2 1176.8,826.7 1177.6,827.1 1178.4,827.4 1179.3,827.7 1180.1,827.9 1180.9,828.1 1181.8,828.3 1182.6,828.4 1183.4,828.5 1184.2,828.6 1185.1,828.7 1185.9,828.8 1186.7,828.8 1187.6,828.9 1188.4,828.9 1189.2,828.9 1190.1,828.9 1190.9,829.0 1191.7,829.0 1192.5,829.0 1193.4,829.0 1194.2,829.0 1195.0,829.0 1195.9,829.0 1196.7,829.0 1197.5,829.0 1198.4,829.0 1199.2,829.0 1200.0,829.0 1200.8,829.0 1201.7,829.0 1202.5,829.0 1203.3,829.0 1204.2,829.0 1205.0,829.0" fill="none" stroke="#ff0000" stroke-width="3.4" stroke-linejoin="round"/>
<polyline points="1105.4,829.0 1127.8,829.0 1130.7,827.9 1136.7,824.5 1140.4,820.0 1142.4,813.3 1143.4,804.3 1144.5,789.4 1145.2,774.5 1146.0,759.6 1146.7,744.6 1147.5,732.7 1148.7,726.0 1150.9,722.2 1154.6,721.5 1159.1,721.8 1161.3,723.7 1162.8,728.2 1163.9,737.2 1164.6,752.1 1165.4,767.0 1166.1,781.9 1166.9,796.9 1168.1,810.3 1169.6,817.8 1171.8,823.0 1175.5,826.7 1179.3,828.5 1183.0,829.0 1205.1,829.0" fill="none" stroke="#0a0aff" stroke-width="3.4" stroke-linejoin="round"/>
<rect x="1312.3" y="892.2" width="122.0" height="127.2" fill="none" stroke="#008000" stroke-width="3.5" stroke-linejoin="miter"/>
<polyline points="1325.4,1010.1 1336.4,1010.1 1343.3,1008.7 1348.9,1004.6 1353.0,997.6 1355.8,989.3 1358.6,976.9 1360.6,965.8 1362.7,952.0 1364.8,938.1 1366.9,924.3 1368.9,911.8 1371.0,903.5 1373.1,900.8 1375.2,902.8 1377.3,909.1 1377.9,916.0 1379.3,922.9 1381.4,935.4 1383.5,949.2 1385.6,963.0 1387.6,975.5 1389.7,986.6 1391.8,996.2 1394.6,1003.2 1398.7,1008.0 1404.2,1010.1 1422.2,1010.1" fill="none" stroke="#ff0000" stroke-width="3.2" stroke-linejoin="round"/>
<polyline points="1325.4,1010.1 1336.4,1010.1 1339.2,1009.4 1344.7,1007.3 1349.6,1001.8 1351.6,996.2 1353.7,990.7 1355.8,983.8 1358.6,974.1 1360.6,965.8 1362.4,960.3 1363.8,959.6 1365.5,963.0 1366.9,970.0 1368.3,976.9 1370.3,978.5 1373.1,978.5 1375.9,979.4 1377.9,978.3 1380.0,972.7 1381.4,965.8 1382.8,961.6 1384.2,963.0 1385.6,970.0 1386.9,976.9 1389.0,985.2 1391.1,993.5 1393.2,1000.4 1395.9,1005.2 1400.1,1008.7 1405.6,1010.1 1422.2,1010.1" fill="none" stroke="#0a0aff" stroke-width="3.6" stroke-linejoin="round"/>
<rect x="895.2" y="1139.8" width="5.2" height="7.0" fill="#000"/>
<rect x="895.2" y="696.9" width="5.2" height="6.0" fill="#000"/>
<rect x="994.4" y="1139.8" width="5.2" height="7.0" fill="#000"/>
<rect x="994.4" y="696.9" width="5.2" height="6.0" fill="#000"/>
<rect x="1093.6" y="1139.8" width="5.2" height="7.0" fill="#000"/>
<rect x="1093.6" y="696.9" width="5.2" height="6.0" fill="#000"/>
<rect x="1192.8" y="1139.8" width="5.2" height="7.0" fill="#000"/>
<rect x="1192.8" y="696.9" width="5.2" height="6.0" fill="#000"/>
<rect x="1292.0" y="1139.8" width="5.2" height="7.0" fill="#000"/>
<rect x="1292.0" y="696.9" width="5.2" height="6.0" fill="#000"/>
<rect x="1391.2" y="1139.8" width="5.2" height="7.0" fill="#000"/>
<rect x="1391.2" y="696.9" width="5.2" height="6.0" fill="#000"/>
<rect x="928.3" y="1139.8" width="5.2" height="2.0" fill="#000"/>
<rect x="928.3" y="696.9" width="5.2" height="1.5" fill="#000"/>
<rect x="961.3" y="1139.8" width="5.2" height="2.0" fill="#000"/>
<rect x="961.3" y="696.9" width="5.2" height="1.5" fill="#000"/>
<rect x="1027.5" y="1139.8" width="5.2" height="2.0" fill="#000"/>
<rect x="1027.5" y="696.9" width="5.2" height="1.5" fill="#000"/>
<rect x="1060.5" y="1139.8" width="5.2" height="2.0" fill="#000"/>
<rect x="1060.5" y="696.9" width="5.2" height="1.5" fill="#000"/>
<rect x="1126.7" y="1139.8" width="5.2" height="2.0" fill="#000"/>
<rect x="1126.7" y="696.9" width="5.2" height="1.5" fill="#000"/>
<rect x="1159.8" y="1139.8" width="5.2" height="2.0" fill="#000"/>
<rect x="1159.8" y="696.9" width="5.2" height="1.5" fill="#000"/>
<rect x="1225.9" y="1139.8" width="5.2" height="2.0" fill="#000"/>
<rect x="1225.9" y="696.9" width="5.2" height="1.5" fill="#000"/>
<rect x="1259.0" y="1139.8" width="5.2" height="2.0" fill="#000"/>
<rect x="1259.0" y="696.9" width="5.2" height="1.5" fill="#000"/>
<rect x="1325.1" y="1139.8" width="5.2" height="2.0" fill="#000"/>
<rect x="1325.1" y="696.9" width="5.2" height="1.5" fill="#000"/>
<rect x="1358.2" y="1139.8" width="5.2" height="2.0" fill="#000"/>
<rect x="1358.2" y="696.9" width="5.2" height="1.5" fill="#000"/>
<rect x="1424.3" y="1139.8" width="5.2" height="2.0" fill="#000"/>
<rect x="1424.3" y="696.9" width="5.2" height="1.5" fill="#000"/>
<rect x="856.1" y="1036.0" width="7.0" height="5.2" fill="#000"/>
<rect x="1451.4" y="1036.0" width="6.0" height="5.2" fill="#000"/>
<rect x="856.1" y="937.4" width="7.0" height="5.2" fill="#000"/>
<rect x="1451.4" y="937.4" width="6.0" height="5.2" fill="#000"/>
<rect x="856.1" y="838.8" width="7.0" height="5.2" fill="#000"/>
<rect x="1451.4" y="838.8" width="6.0" height="5.2" fill="#000"/>
<rect x="856.1" y="740.2" width="7.0" height="5.2" fill="#000"/>
<rect x="1451.4" y="740.2" width="6.0" height="5.2" fill="#000"/>
<rect x="861.1" y="1085.3" width="2.0" height="5.2" fill="#000"/>
<rect x="1455.9" y="1085.3" width="1.5" height="5.2" fill="#000"/>
<rect x="861.1" y="986.7" width="2.0" height="5.2" fill="#000"/>
<rect x="1455.9" y="986.7" width="1.5" height="5.2" fill="#000"/>
<rect x="861.1" y="888.1" width="2.0" height="5.2" fill="#000"/>
<rect x="1455.9" y="888.1" width="1.5" height="5.2" fill="#000"/>
<rect x="861.1" y="789.5" width="2.0" height="5.2" fill="#000"/>
<rect x="1455.9" y="789.5" width="1.5" height="5.2" fill="#000"/>
<rect x="865.7" y="694.3" width="594.3" height="442.9" fill="none" stroke="#000" stroke-width="5.2"/>
<rect x="856.1" y="1134.6" width="7.0" height="5.2" fill="#000"/>
<rect x="861.1" y="691.7" width="2.0" height="5.2" fill="#000"/>
<text x="846.6" y="1146.6" font-size="30.5" text-anchor="end">−100</text>
<text x="846.6" y="1048.0" font-size="30.5" text-anchor="end">0</text>
<text x="846.6" y="949.4" font-size="30.5" text-anchor="end">100</text>
<text x="846.6" y="850.8" font-size="30.5" text-anchor="end">200</text>
<text x="846.6" y="752.2" font-size="30.5" text-anchor="end">300</text>
<text x="897.8" y="1177.8" font-size="30.5" text-anchor="middle">60</text>
<text x="997.0" y="1177.8" font-size="30.5" text-anchor="middle">90</text>
<text x="1096.2" y="1177.8" font-size="30.5" text-anchor="middle">120</text>
<text x="1195.4" y="1177.8" font-size="30.5" text-anchor="middle">150</text>
<text x="1294.6" y="1177.8" font-size="30.5" text-anchor="middle">180</text>
<text x="1393.8" y="1177.8" font-size="30.5" text-anchor="middle">210</text>
<text x="1172.6" y="1221.0" font-size="31" text-anchor="middle">Width (nm)</text>
<text x="0" y="0" font-size="31" text-anchor="middle" transform="translate(762.5,904.7) rotate(-90)">NDR(%) = ΔS/S<tspan font-size="20.5" dy="8.5">e</tspan></text>
<rect x="997.2" y="1043.6" width="68.8" height="68.3" fill="none" stroke="#0a0aff" stroke-width="4.4" stroke-linejoin="miter"/>
<rect x="1228.1" y="687.5" width="68.0" height="68.0" fill="none" stroke="#ff0000" stroke-width="5.2" stroke-linejoin="miter"/>
<rect x="1295.5" y="1071.2" width="68.0" height="68.3" fill="none" stroke="#008000" stroke-width="5.5" stroke-linejoin="miter"/>
<text x="121.8" y="1311.3" font-size="42" font-weight="bold">e</text>
<text x="246.8" y="1323.8" font-size="31"><tspan font-style="italic">w</tspan> = 190 nm</text>
<rect x="122.2" y="1336.2" width="396.4" height="129.9" fill="#000"/>
<clipPath id="cp1336"><rect x="122.2" y="1336.2" width="396.4" height="129.9"/></clipPath>
<g clip-path="url(#cp1336)">
<ellipse cx="188.7" cy="1398.7" rx="35" ry="36" fill="url(#gLow)"/>
<ellipse cx="317.8" cy="1401.4" rx="68" ry="70" fill="url(#gHalo)"/>
<ellipse cx="317.8" cy="1401.4" rx="54" ry="55" fill="url(#gHigh)"/>
<ellipse cx="450.6" cy="1397.5" rx="35" ry="36" fill="url(#gLow)"/>
</g>
<line x1="254.6" y1="1336.2" x2="254.6" y2="1466.1" stroke="#3a3a3a" stroke-width="1.0"/>
<line x1="386.2" y1="1336.2" x2="386.2" y2="1466.1" stroke="#3a3a3a" stroke-width="1.0"/>
<rect x="122.2" y="1531.2" width="396.4" height="129.8" fill="#000"/>
<clipPath id="cp1531"><rect x="122.2" y="1531.2" width="396.4" height="129.8"/></clipPath>
<g clip-path="url(#cp1531)">
<ellipse cx="185.9" cy="1593.8" rx="68" ry="70" fill="url(#gHalo)"/>
<ellipse cx="185.9" cy="1593.8" rx="54" ry="55" fill="url(#gHigh)"/>
<ellipse cx="314.7" cy="1592.0" rx="35" ry="36" fill="url(#gLow)"/>
<ellipse cx="445.3" cy="1593.8" rx="68" ry="70" fill="url(#gHalo)"/>
<ellipse cx="445.3" cy="1593.8" rx="54" ry="55" fill="url(#gHigh)"/>
</g>
<line x1="254.6" y1="1531.2" x2="254.6" y2="1661.0" stroke="#3a3a3a" stroke-width="1.0"/>
<line x1="386.2" y1="1531.2" x2="386.2" y2="1661.0" stroke="#3a3a3a" stroke-width="1.0"/>
<rect x="124.0" y="1721.5" width="394.6" height="129.9" fill="#000"/>
<clipPath id="cp1721"><rect x="124.0" y="1721.5" width="394.6" height="129.9"/></clipPath>
<g clip-path="url(#cp1721)">
<ellipse cx="184.1" cy="1781.6" rx="35" ry="36" fill="url(#gLow)"/>
<ellipse cx="314.7" cy="1785.2" rx="68" ry="70" fill="url(#gHalo)"/>
<ellipse cx="314.7" cy="1785.2" rx="54" ry="55" fill="url(#gHigh)"/>
<ellipse cx="447.0" cy="1779.8" rx="35" ry="36" fill="url(#gLow)"/>
</g>
<line x1="257.4" y1="1721.5" x2="257.4" y2="1851.4" stroke="#3a3a3a" stroke-width="1.0"/>
<line x1="387.0" y1="1721.5" x2="387.0" y2="1851.4" stroke="#3a3a3a" stroke-width="1.0"/>
<text x="188.8" y="1500.0" font-size="31.5" text-anchor="middle">Low</text>
<text x="317.8" y="1500.0" font-size="31.5" text-anchor="middle">High</text>
<text x="447.1" y="1500.0" font-size="31.5" text-anchor="middle">Low</text>
<text x="189.2" y="1695.0" font-size="31.5" text-anchor="middle">High</text>
<text x="317.1" y="1695.0" font-size="31.5" text-anchor="middle">Low</text>
<text x="447.9" y="1695.0" font-size="31.5" text-anchor="middle">High</text>
<text x="180.8" y="1884.5" font-size="31.5" text-anchor="middle">Low</text>
<text x="324.3" y="1884.5" font-size="31.5" text-anchor="middle">High</text>
<text x="441.9" y="1884.5" font-size="31.5" text-anchor="middle">Low</text>
<rect x="320.7" y="1908.2" width="8.0" height="8.0" fill="#000"/>
<rect x="320.7" y="1927.9" width="8.0" height="8.0" fill="#000"/>
<rect x="320.7" y="1947.6" width="8.0" height="8.0" fill="#000"/>
<text x="653.0" y="1310.9" font-size="42" font-weight="bold">f</text>
<rect x="752.8" y="1315.3" width="35.2" height="33.7" fill="#fff5f3"/>
<rect x="787.6" y="1315.3" width="35.2" height="33.7" fill="#fff5f3"/>
<rect x="822.4" y="1315.3" width="35.2" height="33.7" fill="#fff5f3"/>
<rect x="857.2" y="1315.3" width="35.2" height="33.7" fill="#f5f6fe"/>
<rect x="892.0" y="1315.3" width="35.2" height="33.7" fill="#f5f6fe"/>
<rect x="926.8" y="1315.3" width="35.2" height="33.7" fill="#f5f6fe"/>
<rect x="961.5" y="1315.3" width="35.2" height="33.7" fill="#fff5f3"/>
<rect x="996.3" y="1315.3" width="35.2" height="33.7" fill="#fff5f3"/>
<rect x="1031.1" y="1315.3" width="35.2" height="33.7" fill="#fff5f3"/>
<rect x="1065.9" y="1315.3" width="35.2" height="33.7" fill="#fff5f3"/>
<rect x="1100.7" y="1315.3" width="35.2" height="33.7" fill="#7e7efe"/>
<rect x="1135.5" y="1315.3" width="35.2" height="33.7" fill="#b0b0fe"/>
<rect x="1170.3" y="1315.3" width="35.2" height="33.7" fill="#5858fe"/>
<rect x="1205.1" y="1315.3" width="35.2" height="33.7" fill="#7e7efe"/>
<rect x="1239.9" y="1315.3" width="35.2" height="33.7" fill="#7e7efe"/>
<rect x="1274.7" y="1315.3" width="35.2" height="33.7" fill="#b0b0fe"/>
<rect x="1309.4" y="1315.3" width="35.2" height="33.7" fill="#d3d3fe"/>
<rect x="752.8" y="1348.6" width="35.2" height="33.7" fill="#f5f6fe"/>
<rect x="787.6" y="1348.6" width="35.2" height="33.7" fill="#fff5f3"/>
<rect x="822.4" y="1348.6" width="35.2" height="33.7" fill="#fff5f3"/>
<rect x="857.2" y="1348.6" width="35.2" height="33.7" fill="#fff5f3"/>
<rect x="892.0" y="1348.6" width="35.2" height="33.7" fill="#fff5f3"/>
<rect x="926.8" y="1348.6" width="35.2" height="33.7" fill="#fff5f3"/>
<rect x="961.5" y="1348.6" width="35.2" height="33.7" fill="#f5f6fe"/>
<rect x="996.3" y="1348.6" width="35.2" height="33.7" fill="#f5f6fe"/>
<rect x="1031.1" y="1348.6" width="35.2" height="33.7" fill="#fff5f3"/>
<rect x="1065.9" y="1348.6" width="35.2" height="33.7" fill="#f5f6fe"/>
<rect x="1100.7" y="1348.6" width="35.2" height="33.7" fill="#d3d3fe"/>
<rect x="1135.5" y="1348.6" width="35.2" height="33.7" fill="#7e7efe"/>
<rect x="1170.3" y="1348.6" width="35.2" height="33.7" fill="#5858fe"/>
<rect x="1205.1" y="1348.6" width="35.2" height="33.7" fill="#6a6afe"/>
<rect x="1239.9" y="1348.6" width="35.2" height="33.7" fill="#4646fe"/>
<rect x="1274.7" y="1348.6" width="35.2" height="33.7" fill="#8888fe"/>
<rect x="1309.4" y="1348.6" width="35.2" height="33.7" fill="#e3e3fe"/>
<rect x="752.8" y="1381.9" width="35.2" height="33.7" fill="#f5f6fe"/>
<rect x="787.6" y="1381.9" width="35.2" height="33.7" fill="#fff5f3"/>
<rect x="822.4" y="1381.9" width="35.2" height="33.7" fill="#fff5f3"/>
<rect x="857.2" y="1381.9" width="35.2" height="33.7" fill="#fff5f3"/>
<rect x="892.0" y="1381.9" width="35.2" height="33.7" fill="#fff5f3"/>
<rect x="926.8" y="1381.9" width="35.2" height="33.7" fill="#fff5f3"/>
<rect x="961.5" y="1381.9" width="35.2" height="33.7" fill="#fff5f3"/>
<rect x="996.3" y="1381.9" width="35.2" height="33.7" fill="#f5f6fe"/>
<rect x="1031.1" y="1381.9" width="35.2" height="33.7" fill="#f5f6fe"/>
<rect x="1065.9" y="1381.9" width="35.2" height="33.7" fill="#fff5f3"/>
<rect x="1100.7" y="1381.9" width="35.2" height="33.7" fill="#ffe2e2"/>
<rect x="1135.5" y="1381.9" width="35.2" height="33.7" fill="#b0b0fe"/>
<rect x="1170.3" y="1381.9" width="35.2" height="33.7" fill="#6a6afe"/>
<rect x="1205.1" y="1381.9" width="35.2" height="33.7" fill="#5858fe"/>
<rect x="1239.9" y="1381.9" width="35.2" height="33.7" fill="#7e7efe"/>
<rect x="1274.7" y="1381.9" width="35.2" height="33.7" fill="#8888fe"/>
<rect x="1309.4" y="1381.9" width="35.2" height="33.7" fill="#a0a0fe"/>
<rect x="752.8" y="1415.2" width="35.2" height="33.7" fill="#fff5f3"/>
<rect x="787.6" y="1415.2" width="35.2" height="33.7" fill="#fff5f3"/>
<rect x="822.4" y="1415.2" width="35.2" height="33.7" fill="#f5f6fe"/>
<rect x="857.2" y="1415.2" width="35.2" height="33.7" fill="#fff5f3"/>
<rect x="892.0" y="1415.2" width="35.2" height="33.7" fill="#fff5f3"/>
<rect x="926.8" y="1415.2" width="35.2" height="33.7" fill="#f5f6fe"/>
<rect x="961.5" y="1415.2" width="35.2" height="33.7" fill="#fff5f3"/>
<rect x="996.3" y="1415.2" width="35.2" height="33.7" fill="#fff5f3"/>
<rect x="1031.1" y="1415.2" width="35.2" height="33.7" fill="#fff5f3"/>
<rect x="1065.9" y="1415.2" width="35.2" height="33.7" fill="#fff5f3"/>
<rect x="1100.7" y="1415.2" width="35.2" height="33.7" fill="#ffe2e2"/>
<rect x="1135.5" y="1415.2" width="35.2" height="33.7" fill="#ffe2e2"/>
<rect x="1170.3" y="1415.2" width="35.2" height="33.7" fill="#a0a0fe"/>
<rect x="1205.1" y="1415.2" width="35.2" height="33.7" fill="#6a6afe"/>
<rect x="1239.9" y="1415.2" width="35.2" height="33.7" fill="#5858fe"/>
<rect x="1274.7" y="1415.2" width="35.2" height="33.7" fill="#7e7efe"/>
<rect x="1309.4" y="1415.2" width="35.2" height="33.7" fill="#b0b0fe"/>
<rect x="752.8" y="1448.5" width="35.2" height="33.7" fill="#f5f6fe"/>
<rect x="787.6" y="1448.5" width="35.2" height="33.7" fill="#f5f6fe"/>
<rect x="822.4" y="1448.5" width="35.2" height="33.7" fill="#f5f6fe"/>
<rect x="857.2" y="1448.5" width="35.2" height="33.7" fill="#f5f6fe"/>
<rect x="892.0" y="1448.5" width="35.2" height="33.7" fill="#f5f6fe"/>
<rect x="926.8" y="1448.5" width="35.2" height="33.7" fill="#f5f6fe"/>
<rect x="961.5" y="1448.5" width="35.2" height="33.7" fill="#fff5f3"/>
<rect x="996.3" y="1448.5" width="35.2" height="33.7" fill="#fff5f3"/>
<rect x="1031.1" y="1448.5" width="35.2" height="33.7" fill="#f5f6fe"/>
<rect x="1065.9" y="1448.5" width="35.2" height="33.7" fill="#fff5f3"/>
<rect x="1100.7" y="1448.5" width="35.2" height="33.7" fill="#ffe2e2"/>
<rect x="1135.5" y="1448.5" width="35.2" height="33.7" fill="#ff4848"/>
<rect x="1170.3" y="1448.5" width="35.2" height="33.7" fill="#d3d3fe"/>
<rect x="1205.1" y="1448.5" width="35.2" height="33.7" fill="#8888fe"/>
<rect x="1239.9" y="1448.5" width="35.2" height="33.7" fill="#7e7efe"/>
<rect x="1274.7" y="1448.5" width="35.2" height="33.7" fill="#7e7efe"/>
<rect x="1309.4" y="1448.5" width="35.2" height="33.7" fill="#a0a0fe"/>
<rect x="752.8" y="1481.8" width="35.2" height="33.7" fill="#c4c4fe"/>
<rect x="787.6" y="1481.8" width="35.2" height="33.7" fill="#fff5f3"/>
<rect x="822.4" y="1481.8" width="35.2" height="33.7" fill="#f5f6fe"/>
<rect x="857.2" y="1481.8" width="35.2" height="33.7" fill="#f5f6fe"/>
<rect x="892.0" y="1481.8" width="35.2" height="33.7" fill="#f5f6fe"/>
<rect x="926.8" y="1481.8" width="35.2" height="33.7" fill="#f5f6fe"/>
<rect x="961.5" y="1481.8" width="35.2" height="33.7" fill="#fff5f3"/>
<rect x="996.3" y="1481.8" width="35.2" height="33.7" fill="#f5f6fe"/>
<rect x="1031.1" y="1481.8" width="35.2" height="33.7" fill="#f5f6fe"/>
<rect x="1065.9" y="1481.8" width="35.2" height="33.7" fill="#f5f6fe"/>
<rect x="1100.7" y="1481.8" width="35.2" height="33.7" fill="#f5f6fe"/>
<rect x="1135.5" y="1481.8" width="35.2" height="33.7" fill="#ff0000"/>
<rect x="1170.3" y="1481.8" width="35.2" height="33.7" fill="#f5f6fe"/>
<rect x="1205.1" y="1481.8" width="35.2" height="33.7" fill="#f5f6fe"/>
<rect x="1239.9" y="1481.8" width="35.2" height="33.7" fill="#f5f6fe"/>
<rect x="1274.7" y="1481.8" width="35.2" height="33.7" fill="#c4c4fe"/>
<rect x="1309.4" y="1481.8" width="35.2" height="33.7" fill="#b0b0fe"/>
<rect x="752.8" y="1515.1" width="35.2" height="33.7" fill="#fff5f3"/>
<rect x="787.6" y="1515.1" width="35.2" height="33.7" fill="#fff5f3"/>
<rect x="822.4" y="1515.1" width="35.2" height="33.7" fill="#fff5f3"/>
<rect x="857.2" y="1515.1" width="35.2" height="33.7" fill="#f5f6fe"/>
<rect x="892.0" y="1515.1" width="35.2" height="33.7" fill="#fff5f3"/>
<rect x="926.8" y="1515.1" width="35.2" height="33.7" fill="#fff5f3"/>
<rect x="961.5" y="1515.1" width="35.2" height="33.7" fill="#fff5f3"/>
<rect x="996.3" y="1515.1" width="35.2" height="33.7" fill="#fff5f3"/>
<rect x="1031.1" y="1515.1" width="35.2" height="33.7" fill="#f5f6fe"/>
<rect x="1065.9" y="1515.1" width="35.2" height="33.7" fill="#f5f6fe"/>
<rect x="1100.7" y="1515.1" width="35.2" height="33.7" fill="#f5f6fe"/>
<rect x="1135.5" y="1515.1" width="35.2" height="33.7" fill="#ff8c8c"/>
<rect x="1170.3" y="1515.1" width="35.2" height="33.7" fill="#ffc2c2"/>
<rect x="1205.1" y="1515.1" width="35.2" height="33.7" fill="#f5f6fe"/>
<rect x="1239.9" y="1515.1" width="35.2" height="33.7" fill="#d3d3fe"/>
<rect x="1274.7" y="1515.1" width="35.2" height="33.7" fill="#f5f6fe"/>
<rect x="1309.4" y="1515.1" width="35.2" height="33.7" fill="#a0a0fe"/>
<rect x="752.8" y="1548.5" width="35.2" height="33.7" fill="#fff5f3"/>
<rect x="787.6" y="1548.5" width="35.2" height="33.7" fill="#f5f6fe"/>
<rect x="822.4" y="1548.5" width="35.2" height="33.7" fill="#fff5f3"/>
<rect x="857.2" y="1548.5" width="35.2" height="33.7" fill="#f5f6fe"/>
<rect x="892.0" y="1548.5" width="35.2" height="33.7" fill="#fff5f3"/>
<rect x="926.8" y="1548.5" width="35.2" height="33.7" fill="#fff5f3"/>
<rect x="961.5" y="1548.5" width="35.2" height="33.7" fill="#fff5f3"/>
<rect x="996.3" y="1548.5" width="35.2" height="33.7" fill="#fff5f3"/>
<rect x="1031.1" y="1548.5" width="35.2" height="33.7" fill="#f5f6fe"/>
<rect x="1065.9" y="1548.5" width="35.2" height="33.7" fill="#f5f6fe"/>
<rect x="1100.7" y="1548.5" width="35.2" height="33.7" fill="#f5f6fe"/>
<rect x="1135.5" y="1548.5" width="35.2" height="33.7" fill="#e3e3fe"/>
<rect x="1170.3" y="1548.5" width="35.2" height="33.7" fill="#ff4848"/>
<rect x="1205.1" y="1548.5" width="35.2" height="33.7" fill="#fff5f3"/>
<rect x="1239.9" y="1548.5" width="35.2" height="33.7" fill="#fff5f3"/>
<rect x="1274.7" y="1548.5" width="35.2" height="33.7" fill="#f5f6fe"/>
<rect x="1309.4" y="1548.5" width="35.2" height="33.7" fill="#fff5f3"/>
<rect x="752.8" y="1581.8" width="35.2" height="33.7" fill="#fff5f3"/>
<rect x="787.6" y="1581.8" width="35.2" height="33.7" fill="#f5f6fe"/>
<rect x="822.4" y="1581.8" width="35.2" height="33.7" fill="#fff5f3"/>
<rect x="857.2" y="1581.8" width="35.2" height="33.7" fill="#f5f6fe"/>
<rect x="892.0" y="1581.8" width="35.2" height="33.7" fill="#fff5f3"/>
<rect x="926.8" y="1581.8" width="35.2" height="33.7" fill="#f5f6fe"/>
<rect x="961.5" y="1581.8" width="35.2" height="33.7" fill="#fff5f3"/>
<rect x="996.3" y="1581.8" width="35.2" height="33.7" fill="#fff5f3"/>
<rect x="1031.1" y="1581.8" width="35.2" height="33.7" fill="#f5f6fe"/>
<rect x="1065.9" y="1581.8" width="35.2" height="33.7" fill="#fff5f3"/>
<rect x="1100.7" y="1581.8" width="35.2" height="33.7" fill="#e3e3fe"/>
<rect x="1135.5" y="1581.8" width="35.2" height="33.7" fill="#c4c4fe"/>
<rect x="1170.3" y="1581.8" width="35.2" height="33.7" fill="#ffc2c2"/>
<rect x="1205.1" y="1581.8" width="35.2" height="33.7" fill="#ffc2c2"/>
<rect x="1239.9" y="1581.8" width="35.2" height="33.7" fill="#fff5f3"/>
<rect x="1274.7" y="1581.8" width="35.2" height="33.7" fill="#f5f6fe"/>
<rect x="1309.4" y="1581.8" width="35.2" height="33.7" fill="#f5f6fe"/>
<rect x="752.8" y="1615.1" width="35.2" height="33.7" fill="#a0a0fe"/>
<rect x="787.6" y="1615.1" width="35.2" height="33.7" fill="#e3e3fe"/>
<rect x="822.4" y="1615.1" width="35.2" height="33.7" fill="#f5f6fe"/>
<rect x="857.2" y="1615.1" width="35.2" height="33.7" fill="#fff5f3"/>
<rect x="892.0" y="1615.1" width="35.2" height="33.7" fill="#a0a0fe"/>
<rect x="926.8" y="1615.1" width="35.2" height="33.7" fill="#fff5f3"/>
<rect x="961.5" y="1615.1" width="35.2" height="33.7" fill="#fff5f3"/>
<rect x="996.3" y="1615.1" width="35.2" height="33.7" fill="#fff5f3"/>
<rect x="1031.1" y="1615.1" width="35.2" height="33.7" fill="#fff5f3"/>
<rect x="1065.9" y="1615.1" width="35.2" height="33.7" fill="#f5f6fe"/>
<rect x="1100.7" y="1615.1" width="35.2" height="33.7" fill="#e3e3fe"/>
<rect x="1135.5" y="1615.1" width="35.2" height="33.7" fill="#f5f6fe"/>
<rect x="1170.3" y="1615.1" width="35.2" height="33.7" fill="#e3e3fe"/>
<rect x="1205.1" y="1615.1" width="35.2" height="33.7" fill="#ffc2c2"/>
<rect x="1239.9" y="1615.1" width="35.2" height="33.7" fill="#ffe2e2"/>
<rect x="1274.7" y="1615.1" width="35.2" height="33.7" fill="#fff5f3"/>
<rect x="1309.4" y="1615.1" width="35.2" height="33.7" fill="#f5f6fe"/>
<rect x="752.8" y="1648.4" width="35.2" height="33.7" fill="#d3d3fe"/>
<rect x="787.6" y="1648.4" width="35.2" height="33.7" fill="#b0b0fe"/>
<rect x="822.4" y="1648.4" width="35.2" height="33.7" fill="#e3e3fe"/>
<rect x="857.2" y="1648.4" width="35.2" height="33.7" fill="#fff5f3"/>
<rect x="892.0" y="1648.4" width="35.2" height="33.7" fill="#f5f6fe"/>
<rect x="926.8" y="1648.4" width="35.2" height="33.7" fill="#fff5f3"/>
<rect x="961.5" y="1648.4" width="35.2" height="33.7" fill="#fff5f3"/>
<rect x="996.3" y="1648.4" width="35.2" height="33.7" fill="#fff5f3"/>
<rect x="1031.1" y="1648.4" width="35.2" height="33.7" fill="#fff5f3"/>
<rect x="1065.9" y="1648.4" width="35.2" height="33.7" fill="#f5f6fe"/>
<rect x="1100.7" y="1648.4" width="35.2" height="33.7" fill="#e3e3fe"/>
<rect x="1135.5" y="1648.4" width="35.2" height="33.7" fill="#e3e3fe"/>
<rect x="1170.3" y="1648.4" width="35.2" height="33.7" fill="#fff5f3"/>
<rect x="1205.1" y="1648.4" width="35.2" height="33.7" fill="#e3e3fe"/>
<rect x="1239.9" y="1648.4" width="35.2" height="33.7" fill="#ffc2c2"/>
<rect x="1274.7" y="1648.4" width="35.2" height="33.7" fill="#ffe2e2"/>
<rect x="1309.4" y="1648.4" width="35.2" height="33.7" fill="#ffe2e2"/>
<rect x="752.8" y="1681.7" width="35.2" height="33.7" fill="#d3d3fe"/>
<rect x="787.6" y="1681.7" width="35.2" height="33.7" fill="#e3e3fe"/>
<rect x="822.4" y="1681.7" width="35.2" height="33.7" fill="#b0b0fe"/>
<rect x="857.2" y="1681.7" width="35.2" height="33.7" fill="#c4c4fe"/>
<rect x="892.0" y="1681.7" width="35.2" height="33.7" fill="#e3e3fe"/>
<rect x="926.8" y="1681.7" width="35.2" height="33.7" fill="#f5f6fe"/>
<rect x="961.5" y="1681.7" width="35.2" height="33.7" fill="#f5f6fe"/>
<rect x="996.3" y="1681.7" width="35.2" height="33.7" fill="#f5f6fe"/>
<rect x="1031.1" y="1681.7" width="35.2" height="33.7" fill="#f5f6fe"/>
<rect x="1065.9" y="1681.7" width="35.2" height="33.7" fill="#f5f6fe"/>
<rect x="1100.7" y="1681.7" width="35.2" height="33.7" fill="#fff5f3"/>
<rect x="1135.5" y="1681.7" width="35.2" height="33.7" fill="#f5f6fe"/>
<rect x="1170.3" y="1681.7" width="35.2" height="33.7" fill="#f5f6fe"/>
<rect x="1205.1" y="1681.7" width="35.2" height="33.7" fill="#c4c4fe"/>
<rect x="1239.9" y="1681.7" width="35.2" height="33.7" fill="#e3e3fe"/>
<rect x="1274.7" y="1681.7" width="35.2" height="33.7" fill="#ffd0d0"/>
<rect x="1309.4" y="1681.7" width="35.2" height="33.7" fill="#fff5f3"/>
<rect x="752.8" y="1715.0" width="35.2" height="33.7" fill="#f5f6fe"/>
<rect x="787.6" y="1715.0" width="35.2" height="33.7" fill="#fff5f3"/>
<rect x="822.4" y="1715.0" width="35.2" height="33.7" fill="#f5f6fe"/>
<rect x="857.2" y="1715.0" width="35.2" height="33.7" fill="#b0b0fe"/>
<rect x="892.0" y="1715.0" width="35.2" height="33.7" fill="#a0a0fe"/>
<rect x="926.8" y="1715.0" width="35.2" height="33.7" fill="#d3d3fe"/>
<rect x="961.5" y="1715.0" width="35.2" height="33.7" fill="#f5f6fe"/>
<rect x="996.3" y="1715.0" width="35.2" height="33.7" fill="#b0b0fe"/>
<rect x="1031.1" y="1715.0" width="35.2" height="33.7" fill="#fff5f3"/>
<rect x="1065.9" y="1715.0" width="35.2" height="33.7" fill="#f5f6fe"/>
<rect x="1100.7" y="1715.0" width="35.2" height="33.7" fill="#f5f6fe"/>
<rect x="1135.5" y="1715.0" width="35.2" height="33.7" fill="#f5f6fe"/>
<rect x="1170.3" y="1715.0" width="35.2" height="33.7" fill="#f5f6fe"/>
<rect x="1205.1" y="1715.0" width="35.2" height="33.7" fill="#e3e3fe"/>
<rect x="1239.9" y="1715.0" width="35.2" height="33.7" fill="#c4c4fe"/>
<rect x="1274.7" y="1715.0" width="35.2" height="33.7" fill="#e3e3fe"/>
<rect x="1309.4" y="1715.0" width="35.2" height="33.7" fill="#fff5f3"/>
<rect x="752.8" y="1748.3" width="35.2" height="33.7" fill="#fff5f3"/>
<rect x="787.6" y="1748.3" width="35.2" height="33.7" fill="#fff5f3"/>
<rect x="822.4" y="1748.3" width="35.2" height="33.7" fill="#fff5f3"/>
<rect x="857.2" y="1748.3" width="35.2" height="33.7" fill="#fff5f3"/>
<rect x="892.0" y="1748.3" width="35.2" height="33.7" fill="#e3e3fe"/>
<rect x="926.8" y="1748.3" width="35.2" height="33.7" fill="#d3d3fe"/>
<rect x="961.5" y="1748.3" width="35.2" height="33.7" fill="#b0b0fe"/>
<rect x="996.3" y="1748.3" width="35.2" height="33.7" fill="#c4c4fe"/>
<rect x="1031.1" y="1748.3" width="35.2" height="33.7" fill="#d3d3fe"/>
<rect x="1065.9" y="1748.3" width="35.2" height="33.7" fill="#e3e3fe"/>
<rect x="1100.7" y="1748.3" width="35.2" height="33.7" fill="#f5f6fe"/>
<rect x="1135.5" y="1748.3" width="35.2" height="33.7" fill="#f5f6fe"/>
<rect x="1170.3" y="1748.3" width="35.2" height="33.7" fill="#f5f6fe"/>
<rect x="1205.1" y="1748.3" width="35.2" height="33.7" fill="#f5f6fe"/>
<rect x="1239.9" y="1748.3" width="35.2" height="33.7" fill="#f5f6fe"/>
<rect x="1274.7" y="1748.3" width="35.2" height="33.7" fill="#e3e3fe"/>
<rect x="1309.4" y="1748.3" width="35.2" height="33.7" fill="#e3e3fe"/>
<rect x="752.8" y="1781.6" width="35.2" height="33.7" fill="#fff5f3"/>
<rect x="787.6" y="1781.6" width="35.2" height="33.7" fill="#f5f6fe"/>
<rect x="822.4" y="1781.6" width="35.2" height="33.7" fill="#fff5f3"/>
<rect x="857.2" y="1781.6" width="35.2" height="33.7" fill="#f5f6fe"/>
<rect x="892.0" y="1781.6" width="35.2" height="33.7" fill="#fff5f3"/>
<rect x="926.8" y="1781.6" width="35.2" height="33.7" fill="#fff5f3"/>
<rect x="961.5" y="1781.6" width="35.2" height="33.7" fill="#fff5f3"/>
<rect x="996.3" y="1781.6" width="35.2" height="33.7" fill="#ffe2e2"/>
<rect x="1031.1" y="1781.6" width="35.2" height="33.7" fill="#d3d3fe"/>
<rect x="1065.9" y="1781.6" width="35.2" height="33.7" fill="#f5f6fe"/>
<rect x="1100.7" y="1781.6" width="35.2" height="33.7" fill="#c4c4fe"/>
<rect x="1135.5" y="1781.6" width="35.2" height="33.7" fill="#c4c4fe"/>
<rect x="1170.3" y="1781.6" width="35.2" height="33.7" fill="#d3d3fe"/>
<rect x="1205.1" y="1781.6" width="35.2" height="33.7" fill="#d3d3fe"/>
<rect x="1239.9" y="1781.6" width="35.2" height="33.7" fill="#e3e3fe"/>
<rect x="1274.7" y="1781.6" width="35.2" height="33.7" fill="#e3e3fe"/>
<rect x="1309.4" y="1781.6" width="35.2" height="33.7" fill="#e3e3fe"/>
<rect x="752.8" y="1814.9" width="35.2" height="33.7" fill="#fff5f3"/>
<rect x="787.6" y="1814.9" width="35.2" height="33.7" fill="#f5f6fe"/>
<rect x="822.4" y="1814.9" width="35.2" height="33.7" fill="#fff5f3"/>
<rect x="857.2" y="1814.9" width="35.2" height="33.7" fill="#e3e3fe"/>
<rect x="892.0" y="1814.9" width="35.2" height="33.7" fill="#fff5f3"/>
<rect x="926.8" y="1814.9" width="35.2" height="33.7" fill="#fff5f3"/>
<rect x="961.5" y="1814.9" width="35.2" height="33.7" fill="#f5f6fe"/>
<rect x="996.3" y="1814.9" width="35.2" height="33.7" fill="#e3e3fe"/>
<rect x="1031.1" y="1814.9" width="35.2" height="33.7" fill="#fff5f3"/>
<rect x="1065.9" y="1814.9" width="35.2" height="33.7" fill="#fff5f3"/>
<rect x="1100.7" y="1814.9" width="35.2" height="33.7" fill="#fff5f3"/>
<rect x="1135.5" y="1814.9" width="35.2" height="33.7" fill="#fff5f3"/>
<rect x="1170.3" y="1814.9" width="35.2" height="33.7" fill="#fff5f3"/>
<rect x="1205.1" y="1814.9" width="35.2" height="33.7" fill="#fff5f3"/>
<rect x="1239.9" y="1814.9" width="35.2" height="33.7" fill="#fff5f3"/>
<rect x="1274.7" y="1814.9" width="35.2" height="33.7" fill="#fff5f3"/>
<rect x="1309.4" y="1814.9" width="35.2" height="33.7" fill="#fff5f3"/>
<rect x="752.8" y="1848.2" width="35.2" height="33.7" fill="#fff5f3"/>
<rect x="787.6" y="1848.2" width="35.2" height="33.7" fill="#5858fe"/>
<rect x="822.4" y="1848.2" width="35.2" height="33.7" fill="#b0b0fe"/>
<rect x="857.2" y="1848.2" width="35.2" height="33.7" fill="#fff5f3"/>
<rect x="892.0" y="1848.2" width="35.2" height="33.7" fill="#f5f6fe"/>
<rect x="926.8" y="1848.2" width="35.2" height="33.7" fill="#f5f6fe"/>
<rect x="961.5" y="1848.2" width="35.2" height="33.7" fill="#fff5f3"/>
<rect x="996.3" y="1848.2" width="35.2" height="33.7" fill="#f5f6fe"/>
<rect x="1031.1" y="1848.2" width="35.2" height="33.7" fill="#e3e3fe"/>
<rect x="1065.9" y="1848.2" width="35.2" height="33.7" fill="#fff5f3"/>
<rect x="1100.7" y="1848.2" width="35.2" height="33.7" fill="#fff5f3"/>
<rect x="1135.5" y="1848.2" width="35.2" height="33.7" fill="#f5f6fe"/>
<rect x="1170.3" y="1848.2" width="35.2" height="33.7" fill="#fff5f3"/>
<rect x="1205.1" y="1848.2" width="35.2" height="33.7" fill="#fff5f3"/>
<rect x="1239.9" y="1848.2" width="35.2" height="33.7" fill="#f5f6fe"/>
<rect x="1274.7" y="1848.2" width="35.2" height="33.7" fill="#fff5f3"/>
<rect x="1309.4" y="1848.2" width="35.2" height="33.7" fill="#fff5f3"/>
<line x1="752.8" y1="1665.1" x2="1344.2" y2="1665.1" stroke="#000" stroke-width="5.5" stroke-dasharray="21.3 17.9"/>
<line x1="752.8" y1="1881.6" x2="1344.2" y2="1315.3" stroke="#000" stroke-width="5.5" stroke-dasharray="20.6 18.4" stroke-dashoffset="-4"/>
<rect x="753.6" y="1315.6" width="590.7" height="565.7" fill="none" stroke="#000" stroke-width="2.2"/>
<line x1="742.9" y1="1864.9" x2="752.6" y2="1864.9" stroke="#000" stroke-width="1.8"/>
<line x1="748.2" y1="1839.9" x2="752.6" y2="1839.9" stroke="#000" stroke-width="1.8"/>
<line x1="748.2" y1="1814.9" x2="752.6" y2="1814.9" stroke="#000" stroke-width="1.8"/>
<line x1="748.2" y1="1790.0" x2="752.6" y2="1790.0" stroke="#000" stroke-width="1.8"/>
<line x1="742.9" y1="1765.0" x2="752.6" y2="1765.0" stroke="#000" stroke-width="1.8"/>
<line x1="748.2" y1="1740.0" x2="752.6" y2="1740.0" stroke="#000" stroke-width="1.8"/>
<line x1="748.2" y1="1715.0" x2="752.6" y2="1715.0" stroke="#000" stroke-width="1.8"/>
<line x1="748.2" y1="1690.0" x2="752.6" y2="1690.0" stroke="#000" stroke-width="1.8"/>
<line x1="742.9" y1="1665.0" x2="752.6" y2="1665.0" stroke="#000" stroke-width="1.8"/>
<line x1="748.2" y1="1640.1" x2="752.6" y2="1640.1" stroke="#000" stroke-width="1.8"/>
<line x1="748.2" y1="1615.1" x2="752.6" y2="1615.1" stroke="#000" stroke-width="1.8"/>
<line x1="748.2" y1="1590.1" x2="752.6" y2="1590.1" stroke="#000" stroke-width="1.8"/>
<line x1="742.9" y1="1565.1" x2="752.6" y2="1565.1" stroke="#000" stroke-width="1.8"/>
<line x1="748.2" y1="1540.1" x2="752.6" y2="1540.1" stroke="#000" stroke-width="1.8"/>
<line x1="748.2" y1="1515.1" x2="752.6" y2="1515.1" stroke="#000" stroke-width="1.8"/>
<line x1="748.2" y1="1490.2" x2="752.6" y2="1490.2" stroke="#000" stroke-width="1.8"/>
<line x1="742.9" y1="1465.2" x2="752.6" y2="1465.2" stroke="#000" stroke-width="1.8"/>
<line x1="748.2" y1="1440.2" x2="752.6" y2="1440.2" stroke="#000" stroke-width="1.8"/>
<line x1="748.2" y1="1415.2" x2="752.6" y2="1415.2" stroke="#000" stroke-width="1.8"/>
<line x1="748.2" y1="1390.2" x2="752.6" y2="1390.2" stroke="#000" stroke-width="1.8"/>
<line x1="742.9" y1="1365.2" x2="752.6" y2="1365.2" stroke="#000" stroke-width="1.8"/>
<line x1="748.2" y1="1340.3" x2="752.6" y2="1340.3" stroke="#000" stroke-width="1.8"/>
<line x1="770.2" y1="1882.0" x2="770.2" y2="1893.5" stroke="#000" stroke-width="1.8"/>
<line x1="796.3" y1="1882.0" x2="796.3" y2="1888.8" stroke="#000" stroke-width="1.8"/>
<line x1="822.4" y1="1882.0" x2="822.4" y2="1888.8" stroke="#000" stroke-width="1.8"/>
<line x1="848.5" y1="1882.0" x2="848.5" y2="1888.8" stroke="#000" stroke-width="1.8"/>
<line x1="874.6" y1="1882.0" x2="874.6" y2="1893.5" stroke="#000" stroke-width="1.8"/>
<line x1="900.7" y1="1882.0" x2="900.7" y2="1888.8" stroke="#000" stroke-width="1.8"/>
<line x1="926.8" y1="1882.0" x2="926.8" y2="1888.8" stroke="#000" stroke-width="1.8"/>
<line x1="952.8" y1="1882.0" x2="952.8" y2="1888.8" stroke="#000" stroke-width="1.8"/>
<line x1="978.9" y1="1882.0" x2="978.9" y2="1893.5" stroke="#000" stroke-width="1.8"/>
<line x1="1005.0" y1="1882.0" x2="1005.0" y2="1888.8" stroke="#000" stroke-width="1.8"/>
<line x1="1031.1" y1="1882.0" x2="1031.1" y2="1888.8" stroke="#000" stroke-width="1.8"/>
<line x1="1057.2" y1="1882.0" x2="1057.2" y2="1888.8" stroke="#000" stroke-width="1.8"/>
<line x1="1083.3" y1="1882.0" x2="1083.3" y2="1893.5" stroke="#000" stroke-width="1.8"/>
<line x1="1109.4" y1="1882.0" x2="1109.4" y2="1888.8" stroke="#000" stroke-width="1.8"/>
<line x1="1135.5" y1="1882.0" x2="1135.5" y2="1888.8" stroke="#000" stroke-width="1.8"/>
<line x1="1161.6" y1="1882.0" x2="1161.6" y2="1888.8" stroke="#000" stroke-width="1.8"/>
<line x1="1187.7" y1="1882.0" x2="1187.7" y2="1893.5" stroke="#000" stroke-width="1.8"/>
<line x1="1213.8" y1="1882.0" x2="1213.8" y2="1888.8" stroke="#000" stroke-width="1.8"/>
<line x1="1239.9" y1="1882.0" x2="1239.9" y2="1888.8" stroke="#000" stroke-width="1.8"/>
<line x1="1266.0" y1="1882.0" x2="1266.0" y2="1888.8" stroke="#000" stroke-width="1.8"/>
<line x1="1292.1" y1="1882.0" x2="1292.1" y2="1893.5" stroke="#000" stroke-width="1.8"/>
<line x1="1318.1" y1="1882.0" x2="1318.1" y2="1888.8" stroke="#000" stroke-width="1.8"/>
<line x1="1344.2" y1="1882.0" x2="1344.2" y2="1888.8" stroke="#000" stroke-width="1.8"/>
<text x="734.6" y="1875.9" font-size="31" text-anchor="end">60</text>
<text x="734.6" y="1776.0" font-size="31" text-anchor="end">90</text>
<text x="734.6" y="1676.0" font-size="31" text-anchor="end">120</text>
<text x="734.6" y="1576.1" font-size="31" text-anchor="end">50</text>
<text x="734.6" y="1476.2" font-size="31" text-anchor="end">180</text>
<text x="734.6" y="1376.2" font-size="31" text-anchor="end">210</text>
<text x="771.7" y="1926.6" font-size="31" text-anchor="middle">60</text>
<text x="876.1" y="1926.6" font-size="31" text-anchor="middle">90</text>
<text x="980.4" y="1926.6" font-size="31" text-anchor="middle">120</text>
<text x="1084.8" y="1926.6" font-size="31" text-anchor="middle">150</text>
<text x="1189.2" y="1926.6" font-size="31" text-anchor="middle">180</text>
<text x="1293.6" y="1926.6" font-size="31" text-anchor="middle">210</text>
<text x="1008.6" y="1967.8" font-size="30.8"><tspan font-style="italic">w</tspan><tspan font-style="italic" font-size="21" dy="8">x</tspan><tspan dy="-8"> (nm)</tspan></text>
<text x="0" y="0" font-size="30" text-anchor="middle" transform="translate(667.8,1583.8) rotate(-90)"><tspan font-style="italic">w</tspan><tspan font-style="italic" font-size="20" dy="9">y</tspan><tspan dy="-9"> (nm)</tspan></text>
<rect x="1372.9" y="1542.1" width="33.3" height="12.0" fill="rgb(255,0,0)"/>
<rect x="1372.9" y="1553.5" width="33.3" height="12.0" fill="rgb(255,17,17)"/>
<rect x="1372.9" y="1564.8" width="33.3" height="12.0" fill="rgb(255,34,34)"/>
<rect x="1372.9" y="1576.2" width="33.3" height="12.0" fill="rgb(255,51,51)"/>
<rect x="1372.9" y="1587.5" width="33.3" height="12.0" fill="rgb(255,68,68)"/>
<rect x="1372.9" y="1598.9" width="33.3" height="12.0" fill="rgb(255,85,85)"/>
<rect x="1372.9" y="1610.2" width="33.3" height="12.0" fill="rgb(255,102,102)"/>
<rect x="1372.9" y="1621.6" width="33.3" height="12.0" fill="rgb(255,119,119)"/>
<rect x="1372.9" y="1632.9" width="33.3" height="12.0" fill="rgb(255,136,136)"/>
<rect x="1372.9" y="1644.3" width="33.3" height="12.0" fill="rgb(255,153,153)"/>
<rect x="1372.9" y="1655.6" width="33.3" height="12.0" fill="rgb(255,170,170)"/>
<rect x="1372.9" y="1667.0" width="33.3" height="12.0" fill="rgb(255,187,187)"/>
<rect x="1372.9" y="1678.3" width="33.3" height="12.0" fill="rgb(255,204,204)"/>
<rect x="1372.9" y="1689.7" width="33.3" height="12.0" fill="rgb(255,221,221)"/>
<rect x="1372.9" y="1701.0" width="33.3" height="12.0" fill="rgb(255,238,238)"/>
<rect x="1372.9" y="1712.4" width="33.3" height="12.0" fill="rgb(246,246,255)"/>
<rect x="1372.9" y="1723.8" width="33.3" height="12.0" fill="rgb(228,228,255)"/>
<rect x="1372.9" y="1735.1" width="33.3" height="12.0" fill="rgb(211,211,255)"/>
<rect x="1372.9" y="1746.5" width="33.3" height="12.0" fill="rgb(193,193,255)"/>
<rect x="1372.9" y="1757.8" width="33.3" height="12.0" fill="rgb(176,176,255)"/>
<rect x="1372.9" y="1769.2" width="33.3" height="12.0" fill="rgb(158,158,255)"/>
<rect x="1372.9" y="1780.5" width="33.3" height="12.0" fill="rgb(141,141,255)"/>
<rect x="1372.9" y="1791.9" width="33.3" height="12.0" fill="rgb(123,123,255)"/>
<rect x="1372.9" y="1803.2" width="33.3" height="12.0" fill="rgb(105,105,255)"/>
<rect x="1372.9" y="1814.6" width="33.3" height="12.0" fill="rgb(88,88,255)"/>
<rect x="1372.9" y="1825.9" width="33.3" height="12.0" fill="rgb(70,70,255)"/>
<rect x="1372.9" y="1837.3" width="33.3" height="12.0" fill="rgb(53,53,255)"/>
<rect x="1372.9" y="1848.6" width="33.3" height="12.0" fill="rgb(35,35,255)"/>
<rect x="1372.9" y="1860.0" width="33.3" height="12.0" fill="rgb(18,18,255)"/>
<rect x="1372.9" y="1871.3" width="33.3" height="11.4" fill="rgb(0,0,255)"/>
<text x="1417.3" y="1551.0" font-size="31">400</text>
<text x="1417.3" y="1636.2" font-size="31">150</text>
<text x="1417.3" y="1720.9" font-size="31">0</text>
<text x="1417.3" y="1805.6" font-size="31">−60</text>
<text x="1417.3" y="1892.8" font-size="31">−80</text>
<text x="1355.4" y="1464.9" font-size="31">NDR(%)</text>
<text x="1360.3" y="1502.3" font-size="31">= ΔS/S<tspan font-size="31" dy="9">e</tspan></text>
</svg></body></html>
